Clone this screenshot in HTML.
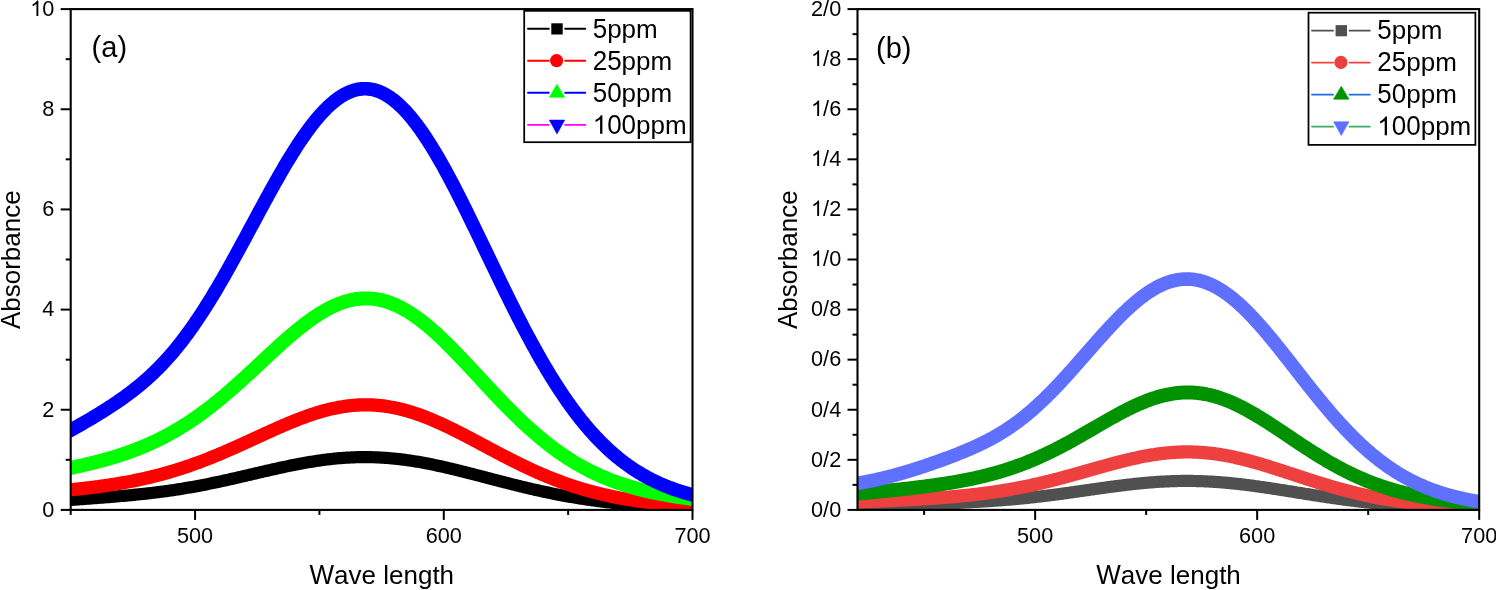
<!DOCTYPE html>
<html><head><meta charset="utf-8"><style>html,body{margin:0;padding:0;background:#fff;overflow:hidden} #w{will-change:transform;width:1496px;height:590px} svg{display:block}</style></head>
<body><div id="w"><svg width="1496" height="590" viewBox="0 0 1496 590">
<style>text{font-family:"Liberation Sans", sans-serif;fill:#000;font-kerning:none}</style>
<rect width="1496" height="590" fill="#fff"/>
<clipPath id="c70"><rect x="70.7" y="9.1" width="621.8" height="500.79999999999995"/></clipPath>
<g clip-path="url(#c70)" fill="none" stroke-width="13.5" stroke-linejoin="round">
<path d="M50.80,501.19 L52.13,501.11 L53.45,501.03 L54.78,500.95 L56.11,500.86 L57.43,500.78 L58.76,500.70 L60.08,500.61 L61.41,500.52 L62.73,500.44 L64.06,500.35 L65.39,500.26 L66.71,500.17 L68.04,500.08 L69.36,499.99 L70.69,499.90 L72.02,499.81 L73.34,499.72 L74.67,499.63 L75.99,499.54 L77.32,499.44 L78.65,499.35 L79.97,499.26 L81.30,499.16 L82.62,499.07 L83.95,498.97 L85.27,498.87 L86.60,498.78 L87.93,498.68 L89.25,498.58 L90.58,498.49 L91.90,498.39 L93.23,498.29 L94.56,498.19 L95.88,498.09 L97.21,497.99 L98.53,497.88 L99.86,497.78 L101.18,497.68 L102.51,497.58 L103.84,497.47 L105.16,497.37 L106.49,497.26 L107.81,497.16 L109.14,497.05 L110.47,496.94 L111.79,496.83 L113.12,496.72 L114.44,496.61 L115.77,496.50 L117.09,496.39 L118.42,496.27 L119.75,496.16 L121.07,496.04 L122.40,495.93 L123.72,495.81 L125.05,495.69 L126.38,495.57 L127.70,495.45 L129.03,495.32 L130.35,495.20 L131.68,495.07 L133.00,494.94 L134.33,494.81 L135.66,494.68 L136.98,494.55 L138.31,494.42 L139.63,494.28 L140.96,494.14 L142.29,494.00 L143.61,493.86 L144.94,493.72 L146.26,493.57 L147.59,493.42 L148.91,493.27 L150.24,493.12 L151.57,492.97 L152.89,492.81 L154.22,492.65 L155.54,492.49 L156.87,492.32 L158.20,492.16 L159.52,491.99 L160.85,491.82 L162.17,491.65 L163.50,491.47 L164.82,491.29 L166.15,491.11 L167.48,490.93 L168.80,490.74 L170.13,490.55 L171.45,490.36 L172.78,490.16 L174.11,489.97 L175.43,489.77 L176.76,489.56 L178.08,489.36 L179.41,489.15 L180.73,488.94 L182.06,488.72 L183.39,488.51 L184.71,488.29 L186.04,488.07 L187.36,487.84 L188.69,487.61 L190.02,487.38 L191.34,487.15 L192.67,486.91 L193.99,486.68 L195.32,486.43 L196.65,486.19 L197.97,485.94 L199.30,485.70 L200.62,485.44 L201.95,485.19 L203.27,484.93 L204.60,484.67 L205.93,484.41 L207.25,484.15 L208.58,483.88 L209.90,483.61 L211.23,483.34 L212.56,483.07 L213.88,482.79 L215.21,482.52 L216.53,482.24 L217.86,481.96 L219.18,481.67 L220.51,481.39 L221.84,481.10 L223.16,480.81 L224.49,480.52 L225.81,480.23 L227.14,479.93 L228.47,479.64 L229.79,479.34 L231.12,479.04 L232.44,478.74 L233.77,478.44 L235.09,478.14 L236.42,477.84 L237.75,477.53 L239.07,477.23 L240.40,476.92 L241.72,476.62 L243.05,476.31 L244.38,476.00 L245.70,475.69 L247.03,475.39 L248.35,475.08 L249.68,474.77 L251.00,474.46 L252.33,474.15 L253.66,473.84 L254.98,473.53 L256.31,473.22 L257.63,472.91 L258.96,472.60 L260.29,472.29 L261.61,471.99 L262.94,471.68 L264.26,471.37 L265.59,471.07 L266.91,470.76 L268.24,470.46 L269.57,470.16 L270.89,469.86 L272.22,469.56 L273.54,469.26 L274.87,468.96 L276.20,468.67 L277.52,468.37 L278.85,468.08 L280.17,467.79 L281.50,467.50 L282.82,467.22 L284.15,466.94 L285.48,466.65 L286.80,466.38 L288.13,466.10 L289.45,465.83 L290.78,465.55 L292.11,465.29 L293.43,465.02 L294.76,464.76 L296.08,464.50 L297.41,464.24 L298.73,463.99 L300.06,463.74 L301.39,463.49 L302.71,463.25 L304.04,463.01 L305.36,462.77 L306.69,462.54 L308.02,462.31 L309.34,462.09 L310.67,461.87 L311.99,461.65 L313.32,461.44 L314.64,461.23 L315.97,461.03 L317.30,460.83 L318.62,460.63 L319.95,460.44 L321.27,460.26 L322.60,460.07 L323.93,459.90 L325.25,459.73 L326.58,459.56 L327.90,459.40 L329.23,459.24 L330.56,459.09 L331.88,458.95 L333.21,458.80 L334.53,458.67 L335.86,458.54 L337.18,458.41 L338.51,458.29 L339.84,458.18 L341.16,458.07 L342.49,457.97 L343.81,457.87 L345.14,457.78 L346.47,457.70 L347.79,457.62 L349.12,457.54 L350.44,457.47 L351.77,457.41 L353.09,457.35 L354.42,457.30 L355.75,457.26 L357.07,457.22 L358.40,457.19 L359.72,457.16 L361.05,457.14 L362.38,457.13 L363.70,457.12 L365.03,457.12 L366.35,457.12 L367.68,457.13 L369.00,457.15 L370.33,457.17 L371.66,457.20 L372.98,457.23 L374.31,457.27 L375.63,457.32 L376.96,457.37 L378.29,457.43 L379.61,457.49 L380.94,457.56 L382.26,457.64 L383.59,457.72 L384.91,457.81 L386.24,457.90 L387.57,458.00 L388.89,458.11 L390.22,458.22 L391.54,458.34 L392.87,458.46 L394.20,458.59 L395.52,458.73 L396.85,458.87 L398.17,459.01 L399.50,459.17 L400.82,459.32 L402.15,459.48 L403.48,459.65 L404.80,459.83 L406.13,460.00 L407.45,460.19 L408.78,460.38 L410.11,460.57 L411.43,460.77 L412.76,460.97 L414.08,461.18 L415.41,461.40 L416.73,461.62 L418.06,461.84 L419.39,462.07 L420.71,462.30 L422.04,462.54 L423.36,462.78 L424.69,463.02 L426.02,463.27 L427.34,463.53 L428.67,463.79 L429.99,464.05 L431.32,464.31 L432.64,464.58 L433.97,464.86 L435.30,465.13 L436.62,465.41 L437.95,465.70 L439.27,465.99 L440.60,466.28 L441.93,466.57 L443.25,466.87 L444.58,467.17 L445.90,467.47 L447.23,467.78 L448.56,468.09 L449.88,468.40 L451.21,468.71 L452.53,469.03 L453.86,469.34 L455.18,469.67 L456.51,469.99 L457.84,470.31 L459.16,470.64 L460.49,470.97 L461.81,471.30 L463.14,471.63 L464.47,471.97 L465.79,472.30 L467.12,472.64 L468.44,472.98 L469.77,473.32 L471.09,473.66 L472.42,474.00 L473.75,474.34 L475.07,474.68 L476.40,475.03 L477.72,475.37 L479.05,475.72 L480.38,476.06 L481.70,476.41 L483.03,476.75 L484.35,477.10 L485.68,477.45 L487.00,477.79 L488.33,478.14 L489.66,478.49 L490.98,478.83 L492.31,479.18 L493.63,479.53 L494.96,479.87 L496.29,480.22 L497.61,480.56 L498.94,480.90 L500.26,481.25 L501.59,481.59 L502.91,481.93 L504.24,482.27 L505.57,482.61 L506.89,482.95 L508.22,483.28 L509.54,483.62 L510.87,483.95 L512.20,484.29 L513.52,484.62 L514.85,484.95 L516.17,485.28 L517.50,485.60 L518.82,485.93 L520.15,486.25 L521.48,486.57 L522.80,486.89 L524.13,487.21 L525.45,487.53 L526.78,487.84 L528.11,488.15 L529.43,488.46 L530.76,488.77 L532.08,489.08 L533.41,489.38 L534.73,489.68 L536.06,489.98 L537.39,490.28 L538.71,490.57 L540.04,490.86 L541.36,491.15 L542.69,491.44 L544.02,491.73 L545.34,492.01 L546.67,492.29 L547.99,492.57 L549.32,492.84 L550.64,493.11 L551.97,493.38 L553.30,493.65 L554.62,493.91 L555.95,494.17 L557.27,494.43 L558.60,494.69 L559.93,494.94 L561.25,495.19 L562.58,495.44 L563.90,495.69 L565.23,495.93 L566.55,496.17 L567.88,496.40 L569.21,496.64 L570.53,496.87 L571.86,497.10 L573.18,497.32 L574.51,497.55 L575.84,497.77 L577.16,497.98 L578.49,498.20 L579.81,498.41 L581.14,498.62 L582.47,498.83 L583.79,499.03 L585.12,499.23 L586.44,499.43 L587.77,499.62 L589.09,499.82 L590.42,500.01 L591.75,500.19 L593.07,500.38 L594.40,500.56 L595.72,500.74 L597.05,500.92 L598.38,501.09 L599.70,501.26 L601.03,501.43 L602.35,501.59 L603.68,501.76 L605.00,501.92 L606.33,502.08 L607.66,502.23 L608.98,502.39 L610.31,502.54 L611.63,502.69 L612.96,502.83 L614.29,502.97 L615.61,503.12 L616.94,503.25 L618.26,503.39 L619.59,503.52 L620.91,503.66 L622.24,503.79 L623.57,503.91 L624.89,504.04 L626.22,504.16 L627.54,504.28 L628.87,504.40 L630.20,504.51 L631.52,504.63 L632.85,504.74 L634.17,504.85 L635.50,504.96 L636.82,505.06 L638.15,505.17 L639.48,505.27 L640.80,505.37 L642.13,505.47 L643.45,505.56 L644.78,505.66 L646.11,505.75 L647.43,505.84 L648.76,505.93 L650.08,506.02 L651.41,506.10 L652.73,506.18 L654.06,506.27 L655.39,506.35 L656.71,506.42 L658.04,506.50 L659.36,506.58 L660.69,506.65 L662.02,506.72 L663.34,506.79 L664.67,506.86 L665.99,506.93 L667.32,507.00 L668.64,507.06 L669.97,507.13 L671.30,507.19 L672.62,507.25 L673.95,507.31 L675.27,507.37 L676.60,507.42 L677.93,507.48 L679.25,507.53 L680.58,507.59 L681.90,507.64 L683.23,507.69 L684.55,507.74 L685.88,507.79 L687.21,507.84 L688.53,507.88 L689.86,507.93 L691.18,507.97 L692.51,508.02 L693.84,508.06 L695.16,508.10 L696.49,508.14 L697.81,508.18 L699.14,508.22 L700.47,508.26 L701.79,508.29 L703.12,508.33 L704.44,508.36 L705.77,508.40 L707.09,508.43 L708.42,508.47 L709.75,508.50 L711.07,508.53 L712.40,508.56" stroke="#000" stroke-width="12.2"/>
<path d="M50.80,491.57 L52.13,491.46 L53.45,491.35 L54.78,491.23 L56.11,491.12 L57.43,491.00 L58.76,490.88 L60.08,490.77 L61.41,490.65 L62.73,490.52 L64.06,490.40 L65.39,490.28 L66.71,490.15 L68.04,490.02 L69.36,489.89 L70.69,489.76 L72.02,489.63 L73.34,489.49 L74.67,489.36 L75.99,489.22 L77.32,489.08 L78.65,488.94 L79.97,488.79 L81.30,488.65 L82.62,488.50 L83.95,488.35 L85.27,488.20 L86.60,488.05 L87.93,487.89 L89.25,487.73 L90.58,487.57 L91.90,487.41 L93.23,487.24 L94.56,487.07 L95.88,486.90 L97.21,486.73 L98.53,486.55 L99.86,486.38 L101.18,486.20 L102.51,486.01 L103.84,485.83 L105.16,485.64 L106.49,485.44 L107.81,485.25 L109.14,485.05 L110.47,484.85 L111.79,484.64 L113.12,484.44 L114.44,484.23 L115.77,484.01 L117.09,483.80 L118.42,483.57 L119.75,483.35 L121.07,483.12 L122.40,482.89 L123.72,482.66 L125.05,482.42 L126.38,482.18 L127.70,481.93 L129.03,481.68 L130.35,481.43 L131.68,481.17 L133.00,480.91 L134.33,480.65 L135.66,480.38 L136.98,480.11 L138.31,479.83 L139.63,479.55 L140.96,479.26 L142.29,478.97 L143.61,478.68 L144.94,478.38 L146.26,478.08 L147.59,477.77 L148.91,477.46 L150.24,477.15 L151.57,476.83 L152.89,476.50 L154.22,476.17 L155.54,475.84 L156.87,475.50 L158.20,475.16 L159.52,474.81 L160.85,474.46 L162.17,474.10 L163.50,473.74 L164.82,473.37 L166.15,473.00 L167.48,472.62 L168.80,472.24 L170.13,471.86 L171.45,471.47 L172.78,471.07 L174.11,470.67 L175.43,470.26 L176.76,469.85 L178.08,469.44 L179.41,469.02 L180.73,468.59 L182.06,468.16 L183.39,467.73 L184.71,467.29 L186.04,466.84 L187.36,466.39 L188.69,465.94 L190.02,465.48 L191.34,465.02 L192.67,464.55 L193.99,464.08 L195.32,463.60 L196.65,463.11 L197.97,462.63 L199.30,462.14 L200.62,461.64 L201.95,461.14 L203.27,460.63 L204.60,460.12 L205.93,459.61 L207.25,459.09 L208.58,458.57 L209.90,458.04 L211.23,457.51 L212.56,456.97 L213.88,456.43 L215.21,455.89 L216.53,455.34 L217.86,454.79 L219.18,454.24 L220.51,453.68 L221.84,453.12 L223.16,452.56 L224.49,451.99 L225.81,451.42 L227.14,450.84 L228.47,450.26 L229.79,449.68 L231.12,449.10 L232.44,448.51 L233.77,447.93 L235.09,447.34 L236.42,446.74 L237.75,446.15 L239.07,445.55 L240.40,444.95 L241.72,444.35 L243.05,443.75 L244.38,443.14 L245.70,442.54 L247.03,441.93 L248.35,441.33 L249.68,440.72 L251.00,440.11 L252.33,439.50 L253.66,438.89 L254.98,438.28 L256.31,437.67 L257.63,437.06 L258.96,436.45 L260.29,435.84 L261.61,435.23 L262.94,434.62 L264.26,434.01 L265.59,433.41 L266.91,432.80 L268.24,432.20 L269.57,431.60 L270.89,431.00 L272.22,430.40 L273.54,429.80 L274.87,429.21 L276.20,428.62 L277.52,428.03 L278.85,427.45 L280.17,426.86 L281.50,426.29 L282.82,425.71 L284.15,425.14 L285.48,424.57 L286.80,424.01 L288.13,423.45 L289.45,422.90 L290.78,422.35 L292.11,421.81 L293.43,421.27 L294.76,420.74 L296.08,420.21 L297.41,419.69 L298.73,419.17 L300.06,418.66 L301.39,418.16 L302.71,417.66 L304.04,417.17 L305.36,416.69 L306.69,416.21 L308.02,415.74 L309.34,415.28 L310.67,414.83 L311.99,414.39 L313.32,413.95 L314.64,413.52 L315.97,413.10 L317.30,412.69 L318.62,412.28 L319.95,411.89 L321.27,411.50 L322.60,411.13 L323.93,410.76 L325.25,410.41 L326.58,410.06 L327.90,409.72 L329.23,409.39 L330.56,409.08 L331.88,408.77 L333.21,408.47 L334.53,408.19 L335.86,407.92 L337.18,407.65 L338.51,407.40 L339.84,407.16 L341.16,406.93 L342.49,406.71 L343.81,406.50 L345.14,406.31 L346.47,406.12 L347.79,405.95 L349.12,405.79 L350.44,405.64 L351.77,405.50 L353.09,405.38 L354.42,405.27 L355.75,405.17 L357.07,405.08 L358.40,405.00 L359.72,404.94 L361.05,404.89 L362.38,404.85 L363.70,404.83 L365.03,404.82 L366.35,404.82 L367.68,404.83 L369.00,404.85 L370.33,404.89 L371.66,404.94 L372.98,405.01 L374.31,405.08 L375.63,405.17 L376.96,405.27 L378.29,405.38 L379.61,405.51 L380.94,405.65 L382.26,405.80 L383.59,405.97 L384.91,406.14 L386.24,406.33 L387.57,406.53 L388.89,406.75 L390.22,406.97 L391.54,407.21 L392.87,407.46 L394.20,407.72 L395.52,408.00 L396.85,408.28 L398.17,408.58 L399.50,408.89 L400.82,409.21 L402.15,409.54 L403.48,409.88 L404.80,410.24 L406.13,410.60 L407.45,410.98 L408.78,411.37 L410.11,411.77 L411.43,412.17 L412.76,412.59 L414.08,413.02 L415.41,413.46 L416.73,413.91 L418.06,414.37 L419.39,414.84 L420.71,415.32 L422.04,415.80 L423.36,416.30 L424.69,416.81 L426.02,417.32 L427.34,417.84 L428.67,418.38 L429.99,418.92 L431.32,419.46 L432.64,420.02 L433.97,420.58 L435.30,421.15 L436.62,421.73 L437.95,422.32 L439.27,422.91 L440.60,423.51 L441.93,424.12 L443.25,424.73 L444.58,425.35 L445.90,425.97 L447.23,426.60 L448.56,427.23 L449.88,427.88 L451.21,428.52 L452.53,429.17 L453.86,429.83 L455.18,430.49 L456.51,431.15 L457.84,431.82 L459.16,432.49 L460.49,433.17 L461.81,433.85 L463.14,434.53 L464.47,435.22 L465.79,435.90 L467.12,436.60 L468.44,437.29 L469.77,437.99 L471.09,438.68 L472.42,439.38 L473.75,440.08 L475.07,440.79 L476.40,441.49 L477.72,442.20 L479.05,442.90 L480.38,443.61 L481.70,444.32 L483.03,445.02 L484.35,445.73 L485.68,446.44 L487.00,447.15 L488.33,447.85 L489.66,448.56 L490.98,449.27 L492.31,449.97 L493.63,450.67 L494.96,451.38 L496.29,452.08 L497.61,452.77 L498.94,453.47 L500.26,454.17 L501.59,454.86 L502.91,455.55 L504.24,456.24 L505.57,456.93 L506.89,457.61 L508.22,458.29 L509.54,458.97 L510.87,459.64 L512.20,460.31 L513.52,460.98 L514.85,461.65 L516.17,462.31 L517.50,462.96 L518.82,463.62 L520.15,464.27 L521.48,464.91 L522.80,465.55 L524.13,466.19 L525.45,466.82 L526.78,467.45 L528.11,468.07 L529.43,468.69 L530.76,469.31 L532.08,469.92 L533.41,470.52 L534.73,471.12 L536.06,471.72 L537.39,472.31 L538.71,472.89 L540.04,473.47 L541.36,474.04 L542.69,474.61 L544.02,475.17 L545.34,475.73 L546.67,476.29 L547.99,476.83 L549.32,477.37 L550.64,477.91 L551.97,478.44 L553.30,478.96 L554.62,479.48 L555.95,480.00 L557.27,480.50 L558.60,481.00 L559.93,481.50 L561.25,481.99 L562.58,482.47 L563.90,482.95 L565.23,483.42 L566.55,483.89 L567.88,484.35 L569.21,484.81 L570.53,485.26 L571.86,485.70 L573.18,486.14 L574.51,486.57 L575.84,486.99 L577.16,487.41 L578.49,487.83 L579.81,488.24 L581.14,488.64 L582.47,489.03 L583.79,489.43 L585.12,489.81 L586.44,490.19 L587.77,490.57 L589.09,490.93 L590.42,491.30 L591.75,491.65 L593.07,492.01 L594.40,492.35 L595.72,492.69 L597.05,493.03 L598.38,493.36 L599.70,493.68 L601.03,494.00 L602.35,494.32 L603.68,494.63 L605.00,494.93 L606.33,495.23 L607.66,495.52 L608.98,495.81 L610.31,496.10 L611.63,496.38 L612.96,496.65 L614.29,496.92 L615.61,497.18 L616.94,497.44 L618.26,497.70 L619.59,497.95 L620.91,498.20 L622.24,498.44 L623.57,498.67 L624.89,498.91 L626.22,499.13 L627.54,499.36 L628.87,499.58 L630.20,499.79 L631.52,500.01 L632.85,500.21 L634.17,500.42 L635.50,500.62 L636.82,500.81 L638.15,501.00 L639.48,501.19 L640.80,501.37 L642.13,501.56 L643.45,501.73 L644.78,501.91 L646.11,502.08 L647.43,502.24 L648.76,502.40 L650.08,502.56 L651.41,502.72 L652.73,502.87 L654.06,503.02 L655.39,503.17 L656.71,503.31 L658.04,503.45 L659.36,503.59 L660.69,503.73 L662.02,503.86 L663.34,503.99 L664.67,504.11 L665.99,504.24 L667.32,504.36 L668.64,504.48 L669.97,504.59 L671.30,504.71 L672.62,504.82 L673.95,504.93 L675.27,505.03 L676.60,505.13 L677.93,505.24 L679.25,505.34 L680.58,505.43 L681.90,505.53 L683.23,505.62 L684.55,505.71 L685.88,505.80 L687.21,505.88 L688.53,505.97 L689.86,506.05 L691.18,506.13 L692.51,506.21 L693.84,506.29 L695.16,506.36 L696.49,506.44 L697.81,506.51 L699.14,506.58 L700.47,506.65 L701.79,506.72 L703.12,506.78 L704.44,506.85 L705.77,506.91 L707.09,506.97 L708.42,507.03 L709.75,507.09 L711.07,507.15 L712.40,507.20" stroke="#f00" stroke-width="13.3"/>
<path d="M50.80,471.70 L52.13,471.46 L53.45,471.22 L54.78,470.98 L56.11,470.73 L57.43,470.48 L58.76,470.23 L60.08,469.98 L61.41,469.72 L62.73,469.46 L64.06,469.20 L65.39,468.94 L66.71,468.68 L68.04,468.41 L69.36,468.14 L70.69,467.87 L72.02,467.59 L73.34,467.31 L74.67,467.03 L75.99,466.75 L77.32,466.47 L78.65,466.18 L79.97,465.88 L81.30,465.59 L82.62,465.29 L83.95,464.99 L85.27,464.68 L86.60,464.37 L87.93,464.06 L89.25,463.75 L90.58,463.43 L91.90,463.10 L93.23,462.78 L94.56,462.44 L95.88,462.11 L97.21,461.77 L98.53,461.42 L99.86,461.08 L101.18,460.72 L102.51,460.37 L103.84,460.00 L105.16,459.64 L106.49,459.26 L107.81,458.89 L109.14,458.51 L110.47,458.12 L111.79,457.73 L113.12,457.33 L114.44,456.93 L115.77,456.52 L117.09,456.10 L118.42,455.68 L119.75,455.26 L121.07,454.82 L122.40,454.39 L123.72,453.94 L125.05,453.49 L126.38,453.03 L127.70,452.57 L129.03,452.10 L130.35,451.62 L131.68,451.14 L133.00,450.64 L134.33,450.15 L135.66,449.64 L136.98,449.13 L138.31,448.61 L139.63,448.08 L140.96,447.54 L142.29,447.00 L143.61,446.45 L144.94,445.89 L146.26,445.32 L147.59,444.75 L148.91,444.16 L150.24,443.57 L151.57,442.97 L152.89,442.36 L154.22,441.75 L155.54,441.12 L156.87,440.48 L158.20,439.84 L159.52,439.19 L160.85,438.52 L162.17,437.85 L163.50,437.17 L164.82,436.48 L166.15,435.78 L167.48,435.08 L168.80,434.36 L170.13,433.63 L171.45,432.89 L172.78,432.15 L174.11,431.39 L175.43,430.62 L176.76,429.85 L178.08,429.06 L179.41,428.26 L180.73,427.46 L182.06,426.64 L183.39,425.82 L184.71,424.98 L186.04,424.13 L187.36,423.28 L188.69,422.41 L190.02,421.54 L191.34,420.65 L192.67,419.75 L193.99,418.85 L195.32,417.93 L196.65,417.01 L197.97,416.07 L199.30,415.13 L200.62,414.17 L201.95,413.21 L203.27,412.23 L204.60,411.25 L205.93,410.25 L207.25,409.25 L208.58,408.24 L209.90,407.22 L211.23,406.18 L212.56,405.14 L213.88,404.09 L215.21,403.04 L216.53,401.97 L217.86,400.89 L219.18,399.81 L220.51,398.72 L221.84,397.62 L223.16,396.51 L224.49,395.39 L225.81,394.27 L227.14,393.14 L228.47,392.00 L229.79,390.85 L231.12,389.70 L232.44,388.54 L233.77,387.38 L235.09,386.21 L236.42,385.03 L237.75,383.84 L239.07,382.66 L240.40,381.46 L241.72,380.26 L243.05,379.06 L244.38,377.85 L245.70,376.64 L247.03,375.42 L248.35,374.20 L249.68,372.98 L251.00,371.76 L252.33,370.53 L253.66,369.30 L254.98,368.06 L256.31,366.83 L257.63,365.60 L258.96,364.36 L260.29,363.12 L261.61,361.89 L262.94,360.65 L264.26,359.41 L265.59,358.18 L266.91,356.95 L268.24,355.71 L269.57,354.48 L270.89,353.26 L272.22,352.03 L273.54,350.81 L274.87,349.59 L276.20,348.38 L277.52,347.17 L278.85,345.97 L280.17,344.77 L281.50,343.58 L282.82,342.39 L284.15,341.21 L285.48,340.04 L286.80,338.88 L288.13,337.72 L289.45,336.57 L290.78,335.43 L292.11,334.30 L293.43,333.18 L294.76,332.07 L296.08,330.98 L297.41,329.89 L298.73,328.81 L300.06,327.75 L301.39,326.70 L302.71,325.66 L304.04,324.63 L305.36,323.62 L306.69,322.62 L308.02,321.64 L309.34,320.67 L310.67,319.72 L311.99,318.78 L313.32,317.86 L314.64,316.95 L315.97,316.07 L317.30,315.20 L318.62,314.35 L319.95,313.51 L321.27,312.70 L322.60,311.90 L323.93,311.13 L325.25,310.37 L326.58,309.64 L327.90,308.92 L329.23,308.23 L330.56,307.55 L331.88,306.90 L333.21,306.27 L334.53,305.66 L335.86,305.08 L337.18,304.51 L338.51,303.97 L339.84,303.46 L341.16,302.97 L342.49,302.50 L343.81,302.05 L345.14,301.63 L346.47,301.24 L347.79,300.87 L349.12,300.52 L350.44,300.20 L351.77,299.91 L353.09,299.64 L354.42,299.39 L355.75,299.18 L357.07,298.99 L358.40,298.82 L359.72,298.68 L361.05,298.57 L362.38,298.48 L363.70,298.42 L365.03,298.39 L366.35,298.39 L367.68,298.41 L369.00,298.46 L370.33,298.53 L371.66,298.63 L372.98,298.76 L374.31,298.92 L375.63,299.10 L376.96,299.31 L378.29,299.55 L379.61,299.81 L380.94,300.10 L382.26,300.42 L383.59,300.76 L384.91,301.13 L386.24,301.53 L387.57,301.95 L388.89,302.40 L390.22,302.87 L391.54,303.37 L392.87,303.90 L394.20,304.45 L395.52,305.02 L396.85,305.62 L398.17,306.25 L399.50,306.90 L400.82,307.57 L402.15,308.27 L403.48,308.99 L404.80,309.74 L406.13,310.51 L407.45,311.30 L408.78,312.11 L410.11,312.95 L411.43,313.81 L412.76,314.68 L414.08,315.59 L415.41,316.51 L416.73,317.45 L418.06,318.41 L419.39,319.40 L420.71,320.40 L422.04,321.42 L423.36,322.46 L424.69,323.52 L426.02,324.59 L427.34,325.69 L428.67,326.80 L429.99,327.92 L431.32,329.07 L432.64,330.23 L433.97,331.40 L435.30,332.59 L436.62,333.79 L437.95,335.01 L439.27,336.25 L440.60,337.49 L441.93,338.75 L443.25,340.02 L444.58,341.30 L445.90,342.59 L447.23,343.90 L448.56,345.21 L449.88,346.54 L451.21,347.87 L452.53,349.22 L453.86,350.57 L455.18,351.93 L456.51,353.30 L457.84,354.67 L459.16,356.06 L460.49,357.44 L461.81,358.84 L463.14,360.24 L464.47,361.64 L465.79,363.05 L467.12,364.47 L468.44,365.88 L469.77,367.30 L471.09,368.73 L472.42,370.15 L473.75,371.58 L475.07,373.01 L476.40,374.44 L477.72,375.87 L479.05,377.30 L480.38,378.73 L481.70,380.16 L483.03,381.59 L484.35,383.02 L485.68,384.45 L487.00,385.87 L488.33,387.29 L489.66,388.71 L490.98,390.13 L492.31,391.54 L493.63,392.95 L494.96,394.36 L496.29,395.76 L497.61,397.15 L498.94,398.54 L500.26,399.92 L501.59,401.30 L502.91,402.68 L504.24,404.04 L505.57,405.40 L506.89,406.75 L508.22,408.10 L509.54,409.44 L510.87,410.77 L512.20,412.09 L513.52,413.40 L514.85,414.71 L516.17,416.00 L517.50,417.29 L518.82,418.57 L520.15,419.84 L521.48,421.10 L522.80,422.35 L524.13,423.59 L525.45,424.82 L526.78,426.04 L528.11,427.25 L529.43,428.45 L530.76,429.64 L532.08,430.82 L533.41,431.98 L534.73,433.14 L536.06,434.28 L537.39,435.42 L538.71,436.54 L540.04,437.65 L541.36,438.75 L542.69,439.84 L544.02,440.91 L545.34,441.98 L546.67,443.03 L547.99,444.07 L549.32,445.10 L550.64,446.12 L551.97,447.12 L553.30,448.12 L554.62,449.10 L555.95,450.07 L557.27,451.02 L558.60,451.97 L559.93,452.90 L561.25,453.82 L562.58,454.73 L563.90,455.63 L565.23,456.52 L566.55,457.39 L567.88,458.25 L569.21,459.10 L570.53,459.94 L571.86,460.76 L573.18,461.58 L574.51,462.38 L575.84,463.17 L577.16,463.95 L578.49,464.72 L579.81,465.48 L581.14,466.22 L582.47,466.95 L583.79,467.68 L585.12,468.39 L586.44,469.09 L587.77,469.78 L589.09,470.46 L590.42,471.13 L591.75,471.78 L593.07,472.43 L594.40,473.07 L595.72,473.69 L597.05,474.31 L598.38,474.91 L599.70,475.51 L601.03,476.09 L602.35,476.67 L603.68,477.24 L605.00,477.79 L606.33,478.34 L607.66,478.88 L608.98,479.40 L610.31,479.92 L611.63,480.43 L612.96,480.93 L614.29,481.43 L615.61,481.91 L616.94,482.38 L618.26,482.85 L619.59,483.31 L620.91,483.76 L622.24,484.20 L623.57,484.63 L624.89,485.06 L626.22,485.48 L627.54,485.89 L628.87,486.29 L630.20,486.68 L631.52,487.07 L632.85,487.45 L634.17,487.83 L635.50,488.19 L636.82,488.55 L638.15,488.91 L639.48,489.25 L640.80,489.59 L642.13,489.93 L643.45,490.26 L644.78,490.58 L646.11,490.89 L647.43,491.20 L648.76,491.50 L650.08,491.80 L651.41,492.10 L652.73,492.38 L654.06,492.66 L655.39,492.94 L656.71,493.21 L658.04,493.48 L659.36,493.74 L660.69,493.99 L662.02,494.24 L663.34,494.49 L664.67,494.73 L665.99,494.97 L667.32,495.20 L668.64,495.43 L669.97,495.65 L671.30,495.87 L672.62,496.09 L673.95,496.30 L675.27,496.51 L676.60,496.71 L677.93,496.91 L679.25,497.11 L680.58,497.30 L681.90,497.49 L683.23,497.68 L684.55,497.86 L685.88,498.04 L687.21,498.22 L688.53,498.39 L689.86,498.56 L691.18,498.73 L692.51,498.89 L693.84,499.05 L695.16,499.21 L696.49,499.37 L697.81,499.52 L699.14,499.67 L700.47,499.82 L701.79,499.96 L703.12,500.10 L704.44,500.24 L705.77,500.38 L707.09,500.52 L708.42,500.65 L709.75,500.78 L711.07,500.91 L712.40,501.03" stroke="#0f0" stroke-width="14.0"/>
<path d="M50.80,440.44 L52.13,439.79 L53.45,439.13 L54.78,438.47 L56.11,437.80 L57.43,437.13 L58.76,436.46 L60.08,435.77 L61.41,435.09 L62.73,434.39 L64.06,433.70 L65.39,432.99 L66.71,432.29 L68.04,431.57 L69.36,430.86 L70.69,430.14 L72.02,429.41 L73.34,428.68 L74.67,427.95 L75.99,427.21 L77.32,426.47 L78.65,425.72 L79.97,424.97 L81.30,424.22 L82.62,423.46 L83.95,422.69 L85.27,421.93 L86.60,421.16 L87.93,420.38 L89.25,419.60 L90.58,418.82 L91.90,418.03 L93.23,417.24 L94.56,416.44 L95.88,415.64 L97.21,414.84 L98.53,414.03 L99.86,413.21 L101.18,412.39 L102.51,411.57 L103.84,410.74 L105.16,409.90 L106.49,409.06 L107.81,408.21 L109.14,407.35 L110.47,406.49 L111.79,405.63 L113.12,404.75 L114.44,403.87 L115.77,402.98 L117.09,402.08 L118.42,401.17 L119.75,400.26 L121.07,399.34 L122.40,398.40 L123.72,397.46 L125.05,396.51 L126.38,395.55 L127.70,394.57 L129.03,393.59 L130.35,392.59 L131.68,391.58 L133.00,390.56 L134.33,389.53 L135.66,388.48 L136.98,387.42 L138.31,386.35 L139.63,385.26 L140.96,384.16 L142.29,383.05 L143.61,381.91 L144.94,380.76 L146.26,379.60 L147.59,378.42 L148.91,377.22 L150.24,376.01 L151.57,374.78 L152.89,373.52 L154.22,372.26 L155.54,370.97 L156.87,369.66 L158.20,368.34 L159.52,366.99 L160.85,365.63 L162.17,364.24 L163.50,362.84 L164.82,361.41 L166.15,359.97 L167.48,358.50 L168.80,357.01 L170.13,355.50 L171.45,353.97 L172.78,352.42 L174.11,350.85 L175.43,349.25 L176.76,347.63 L178.08,345.99 L179.41,344.33 L180.73,342.65 L182.06,340.94 L183.39,339.21 L184.71,337.46 L186.04,335.69 L187.36,333.89 L188.69,332.08 L190.02,330.24 L191.34,328.38 L192.67,326.50 L193.99,324.59 L195.32,322.67 L196.65,320.72 L197.97,318.76 L199.30,316.77 L200.62,314.76 L201.95,312.73 L203.27,310.68 L204.60,308.62 L205.93,306.53 L207.25,304.42 L208.58,302.30 L209.90,300.15 L211.23,297.99 L212.56,295.81 L213.88,293.61 L215.21,291.40 L216.53,289.17 L217.86,286.92 L219.18,284.66 L220.51,282.39 L221.84,280.09 L223.16,277.79 L224.49,275.47 L225.81,273.14 L227.14,270.79 L228.47,268.44 L229.79,266.07 L231.12,263.69 L232.44,261.30 L233.77,258.90 L235.09,256.49 L236.42,254.07 L237.75,251.65 L239.07,249.22 L240.40,246.78 L241.72,244.33 L243.05,241.88 L244.38,239.43 L245.70,236.97 L247.03,234.50 L248.35,232.04 L249.68,229.57 L251.00,227.10 L252.33,224.63 L253.66,222.16 L254.98,219.69 L256.31,217.23 L257.63,214.76 L258.96,212.30 L260.29,209.84 L261.61,207.39 L262.94,204.94 L264.26,202.50 L265.59,200.06 L266.91,197.63 L268.24,195.21 L269.57,192.80 L270.89,190.40 L272.22,188.01 L273.54,185.63 L274.87,183.26 L276.20,180.90 L277.52,178.56 L278.85,176.23 L280.17,173.92 L281.50,171.62 L282.82,169.34 L284.15,167.08 L285.48,164.84 L286.80,162.61 L288.13,160.41 L289.45,158.22 L290.78,156.06 L292.11,153.91 L293.43,151.79 L294.76,149.70 L296.08,147.62 L297.41,145.58 L298.73,143.56 L300.06,141.56 L301.39,139.59 L302.71,137.65 L304.04,135.74 L305.36,133.86 L306.69,132.00 L308.02,130.18 L309.34,128.39 L310.67,126.63 L311.99,124.90 L313.32,123.21 L314.64,121.55 L315.97,119.92 L317.30,118.33 L318.62,116.78 L319.95,115.26 L321.27,113.78 L322.60,112.34 L323.93,110.93 L325.25,109.56 L326.58,108.24 L327.90,106.95 L329.23,105.70 L330.56,104.49 L331.88,103.33 L333.21,102.20 L334.53,101.12 L335.86,100.08 L337.18,99.09 L338.51,98.14 L339.84,97.23 L341.16,96.36 L342.49,95.54 L343.81,94.77 L345.14,94.04 L346.47,93.36 L347.79,92.72 L349.12,92.13 L350.44,91.58 L351.77,91.08 L353.09,90.63 L354.42,90.23 L355.75,89.87 L357.07,89.57 L358.40,89.31 L359.72,89.09 L361.05,88.93 L362.38,88.81 L363.70,88.75 L365.03,88.73 L366.35,88.76 L367.68,88.84 L369.00,88.96 L370.33,89.14 L371.66,89.36 L372.98,89.63 L374.31,89.95 L375.63,90.32 L376.96,90.74 L378.29,91.21 L379.61,91.72 L380.94,92.28 L382.26,92.89 L383.59,93.55 L384.91,94.26 L386.24,95.01 L387.57,95.81 L388.89,96.66 L390.22,97.55 L391.54,98.49 L392.87,99.47 L394.20,100.51 L395.52,101.58 L396.85,102.70 L398.17,103.87 L399.50,105.08 L400.82,106.33 L402.15,107.63 L403.48,108.97 L404.80,110.35 L406.13,111.78 L407.45,113.25 L408.78,114.75 L410.11,116.30 L411.43,117.89 L412.76,119.52 L414.08,121.19 L415.41,122.89 L416.73,124.64 L418.06,126.42 L419.39,128.24 L420.71,130.09 L422.04,131.98 L423.36,133.91 L424.69,135.87 L426.02,137.86 L427.34,139.89 L428.67,141.95 L429.99,144.04 L431.32,146.16 L432.64,148.31 L433.97,150.49 L435.30,152.71 L436.62,154.94 L437.95,157.21 L439.27,159.51 L440.60,161.83 L441.93,164.17 L443.25,166.54 L444.58,168.94 L445.90,171.35 L447.23,173.79 L448.56,176.25 L449.88,178.74 L451.21,181.24 L452.53,183.76 L453.86,186.30 L455.18,188.86 L456.51,191.44 L457.84,194.03 L459.16,196.64 L460.49,199.26 L461.81,201.90 L463.14,204.55 L464.47,207.22 L465.79,209.89 L467.12,212.58 L468.44,215.28 L469.77,217.98 L471.09,220.70 L472.42,223.42 L473.75,226.16 L475.07,228.89 L476.40,231.64 L477.72,234.39 L479.05,237.14 L480.38,239.90 L481.70,242.66 L483.03,245.42 L484.35,248.19 L485.68,250.96 L487.00,253.72 L488.33,256.49 L489.66,259.26 L490.98,262.02 L492.31,264.78 L493.63,267.54 L494.96,270.30 L496.29,273.05 L497.61,275.79 L498.94,278.53 L500.26,281.27 L501.59,284.00 L502.91,286.72 L504.24,289.43 L505.57,292.14 L506.89,294.84 L508.22,297.52 L509.54,300.20 L510.87,302.87 L512.20,305.52 L513.52,308.17 L514.85,310.80 L516.17,313.42 L517.50,316.03 L518.82,318.62 L520.15,321.21 L521.48,323.77 L522.80,326.32 L524.13,328.86 L525.45,331.38 L526.78,333.89 L528.11,336.38 L529.43,338.85 L530.76,341.31 L532.08,343.75 L533.41,346.17 L534.73,348.58 L536.06,350.96 L537.39,353.33 L538.71,355.68 L540.04,358.01 L541.36,360.32 L542.69,362.62 L544.02,364.89 L545.34,367.14 L546.67,369.37 L547.99,371.58 L549.32,373.78 L550.64,375.95 L551.97,378.10 L553.30,380.22 L554.62,382.33 L555.95,384.42 L557.27,386.48 L558.60,388.53 L559.93,390.55 L561.25,392.55 L562.58,394.53 L563.90,396.48 L565.23,398.42 L566.55,400.33 L567.88,402.22 L569.21,404.09 L570.53,405.93 L571.86,407.76 L573.18,409.56 L574.51,411.34 L575.84,413.09 L577.16,414.83 L578.49,416.54 L579.81,418.23 L581.14,419.90 L582.47,421.54 L583.79,423.17 L585.12,424.77 L586.44,426.35 L587.77,427.91 L589.09,429.45 L590.42,430.96 L591.75,432.45 L593.07,433.92 L594.40,435.37 L595.72,436.80 L597.05,438.21 L598.38,439.60 L599.70,440.96 L601.03,442.31 L602.35,443.63 L603.68,444.93 L605.00,446.22 L606.33,447.48 L607.66,448.72 L608.98,449.95 L610.31,451.15 L611.63,452.33 L612.96,453.49 L614.29,454.64 L615.61,455.76 L616.94,456.87 L618.26,457.96 L619.59,459.03 L620.91,460.08 L622.24,461.11 L623.57,462.12 L624.89,463.12 L626.22,464.10 L627.54,465.06 L628.87,466.00 L630.20,466.93 L631.52,467.84 L632.85,468.73 L634.17,469.60 L635.50,470.46 L636.82,471.31 L638.15,472.14 L639.48,472.95 L640.80,473.74 L642.13,474.53 L643.45,475.29 L644.78,476.04 L646.11,476.78 L647.43,477.50 L648.76,478.21 L650.08,478.90 L651.41,479.58 L652.73,480.25 L654.06,480.90 L655.39,481.54 L656.71,482.17 L658.04,482.78 L659.36,483.38 L660.69,483.97 L662.02,484.55 L663.34,485.11 L664.67,485.66 L665.99,486.21 L667.32,486.73 L668.64,487.25 L669.97,487.76 L671.30,488.26 L672.62,488.74 L673.95,489.22 L675.27,489.68 L676.60,490.14 L677.93,490.58 L679.25,491.01 L680.58,491.44 L681.90,491.86 L683.23,492.26 L684.55,492.66 L685.88,493.05 L687.21,493.43 L688.53,493.80 L689.86,494.16 L691.18,494.52 L692.51,494.86 L693.84,495.20 L695.16,495.53 L696.49,495.86 L697.81,496.17 L699.14,496.48 L700.47,496.78 L701.79,497.08 L703.12,497.37 L704.44,497.65 L705.77,497.92 L707.09,498.19 L708.42,498.45 L709.75,498.71 L711.07,498.96 L712.40,499.20" stroke="#00f" stroke-width="13.7"/>
</g>
<rect x="70.7" y="9.1" width="621.8" height="500.79999999999995" fill="none" stroke="#000" stroke-width="2.1"/>
<line x1="60.7" y1="509.90" x2="70.7" y2="509.90" stroke="#000" stroke-width="2"/>
<g transform="translate(54.40,517.00)">
<text transform="translate(-12.07,0) scale(1,1.0400)" font-size="21.7">0</text>
</g>
<line x1="65.7" y1="459.82" x2="70.7" y2="459.82" stroke="#000" stroke-width="2"/>
<line x1="60.7" y1="409.74" x2="70.7" y2="409.74" stroke="#000" stroke-width="2"/>
<g transform="translate(54.40,417.00)">
<text transform="translate(-12.07,0) scale(1,1.0400)" font-size="21.7">2</text>
</g>
<line x1="65.7" y1="359.66" x2="70.7" y2="359.66" stroke="#000" stroke-width="2"/>
<line x1="60.7" y1="309.58" x2="70.7" y2="309.58" stroke="#000" stroke-width="2"/>
<g transform="translate(54.40,316.00)">
<text transform="translate(-12.07,0) scale(1,1.0400)" font-size="21.7">4</text>
</g>
<line x1="65.7" y1="259.50" x2="70.7" y2="259.50" stroke="#000" stroke-width="2"/>
<line x1="60.7" y1="209.42" x2="70.7" y2="209.42" stroke="#000" stroke-width="2"/>
<g transform="translate(54.40,216.00)">
<text transform="translate(-12.07,0) scale(1,1.0400)" font-size="21.7">6</text>
</g>
<line x1="65.7" y1="159.34" x2="70.7" y2="159.34" stroke="#000" stroke-width="2"/>
<line x1="60.7" y1="109.26" x2="70.7" y2="109.26" stroke="#000" stroke-width="2"/>
<g transform="translate(54.40,116.00)">
<text transform="translate(-12.07,0) scale(1,1.0400)" font-size="21.7">8</text>
</g>
<line x1="65.7" y1="59.18" x2="70.7" y2="59.18" stroke="#000" stroke-width="2"/>
<line x1="60.7" y1="9.10" x2="70.7" y2="9.10" stroke="#000" stroke-width="2"/>
<g transform="translate(54.40,16.00)">
<path transform="translate(-24.14,0) scale(0.010596,-0.010591)" d="M763,0 L583,0 L583,1147 Q518,1085 412.5,1023 Q307,961 223,930 L223,1104 Q374,1175 484.5,1273.5 Q595,1372 646,1466 L763,1466 Z"/>
<text transform="translate(-12.07,0) scale(1,1.0400)" font-size="21.7">0</text>
</g>
<line x1="70.70" y1="509.9" x2="70.70" y2="514.9" stroke="#000" stroke-width="2"/>
<line x1="195.06" y1="509.9" x2="195.06" y2="519.9" stroke="#000" stroke-width="2"/>
<g transform="translate(195.06,543.00)">
<text transform="translate(-18.10,0) scale(1,1.0400)" font-size="21.7">500</text>
</g>
<line x1="319.42" y1="509.9" x2="319.42" y2="514.9" stroke="#000" stroke-width="2"/>
<line x1="443.78" y1="509.9" x2="443.78" y2="519.9" stroke="#000" stroke-width="2"/>
<g transform="translate(443.78,543.00)">
<text transform="translate(-18.10,0) scale(1,1.0400)" font-size="21.7">600</text>
</g>
<line x1="568.14" y1="509.9" x2="568.14" y2="514.9" stroke="#000" stroke-width="2"/>
<line x1="692.50" y1="509.9" x2="692.50" y2="519.9" stroke="#000" stroke-width="2"/>
<g transform="translate(692.50,543.00)">
<text transform="translate(-18.10,0) scale(1,1.0400)" font-size="21.7">700</text>
</g>
<g transform="translate(91.60,57.20)">
<text transform="translate(0.00,0) scale(1,1.0000)" font-size="29">(a)</text>
</g>
<g transform="translate(381.80,584.00)">
<text transform="translate(-72.26,0) scale(1,1.0400)" font-size="26">W</text>
<text transform="translate(-47.72,0) scale(1,1.0000)" font-size="26">ave length</text>
</g>
<g transform="translate(19.90,259.70) rotate(-90)">
<text transform="translate(-69.38,0) scale(1,1.0400)" font-size="26">A</text>
<text transform="translate(-52.04,0) scale(1,1.0000)" font-size="26">bsorbance</text>
</g>
<rect x="524.2" y="10.85" width="166.39999999999998" height="131.35" fill="#fff" stroke="#000" stroke-width="1.75"/>
<path d="M528.0,28.8 H548.8 M565.2,28.8 H585.3" stroke="#000" stroke-width="1.9" stroke-linecap="round" fill="none"/>
<rect x="551.3" y="23.3" width="11.4" height="11.2" fill="#000"/>
<g transform="translate(592.70,38.10)">
<text transform="translate(0.00,0) scale(1,1.0400)" font-size="26">5</text>
<text transform="translate(14.46,0) scale(1,1.0000)" font-size="26">ppm</text>
</g>
<path d="M528.0,60.8 H548.8 M565.2,60.8 H585.3" stroke="#f00" stroke-width="1.9" stroke-linecap="round" fill="none"/>
<circle cx="556.6" cy="60.599999999999994" r="6.6" fill="#f00"/>
<g transform="translate(592.70,69.90)">
<text transform="translate(0.00,0) scale(1,1.0400)" font-size="26">25</text>
<text transform="translate(28.92,0) scale(1,1.0000)" font-size="26">ppm</text>
</g>
<path d="M528.0,92.7 H548.8 M565.2,92.7 H585.3" stroke="#00f" stroke-width="1.9" stroke-linecap="round" fill="none"/>
<path d="M549.3,97.3 L564.7,97.3 L557,84.3 Z" fill="#0f0" stroke="#0f0" stroke-width="0.6" stroke-linejoin="round"/>
<g transform="translate(592.70,101.90)">
<text transform="translate(0.00,0) scale(1,1.0400)" font-size="26">50</text>
<text transform="translate(28.92,0) scale(1,1.0000)" font-size="26">ppm</text>
</g>
<path d="M528.0,124.9 H548.8 M565.2,124.9 H585.3" stroke="#f0f" stroke-width="1.9" stroke-linecap="round" fill="none"/>
<path d="M549.3,120.10000000000001 L564.7,120.10000000000001 L557,133.9 Z" fill="#00f" stroke="#00f" stroke-width="0.6" stroke-linejoin="round"/>
<g transform="translate(592.70,133.80)">
<path transform="translate(0.00,0) scale(0.012695,-0.012690)" d="M763,0 L583,0 L583,1147 Q518,1085 412.5,1023 Q307,961 223,930 L223,1104 Q374,1175 484.5,1273.5 Q595,1372 646,1466 L763,1466 Z"/>
<text transform="translate(14.46,0) scale(1,1.0400)" font-size="26">00</text>
<text transform="translate(43.38,0) scale(1,1.0000)" font-size="26">ppm</text>
</g>
<clipPath id="c857"><rect x="857.5" y="9.1" width="621.7" height="500.79999999999995"/></clipPath>
<g clip-path="url(#c857)" fill="none" stroke-width="13.5" stroke-linejoin="round">
<path d="M839.74,506.91 L841.05,506.89 L842.37,506.87 L843.69,506.84 L845.01,506.82 L846.32,506.79 L847.64,506.77 L848.96,506.74 L850.27,506.72 L851.59,506.69 L852.91,506.66 L854.23,506.64 L855.54,506.61 L856.86,506.58 L858.18,506.55 L859.49,506.52 L860.81,506.49 L862.13,506.46 L863.44,506.43 L864.76,506.40 L866.08,506.37 L867.40,506.34 L868.71,506.31 L870.03,506.27 L871.35,506.24 L872.66,506.20 L873.98,506.17 L875.30,506.13 L876.62,506.10 L877.93,506.06 L879.25,506.02 L880.57,505.98 L881.88,505.95 L883.20,505.91 L884.52,505.87 L885.84,505.83 L887.15,505.79 L888.47,505.74 L889.79,505.70 L891.10,505.66 L892.42,505.61 L893.74,505.57 L895.05,505.53 L896.37,505.48 L897.69,505.44 L899.01,505.39 L900.32,505.34 L901.64,505.30 L902.96,505.25 L904.27,505.20 L905.59,505.15 L906.91,505.10 L908.23,505.05 L909.54,505.00 L910.86,504.95 L912.18,504.90 L913.49,504.85 L914.81,504.79 L916.13,504.74 L917.45,504.69 L918.76,504.63 L920.08,504.58 L921.40,504.53 L922.71,504.47 L924.03,504.42 L925.35,504.36 L926.66,504.30 L927.98,504.25 L929.30,504.19 L930.62,504.14 L931.93,504.08 L933.25,504.02 L934.57,503.96 L935.88,503.90 L937.20,503.85 L938.52,503.79 L939.84,503.73 L941.15,503.67 L942.47,503.61 L943.79,503.55 L945.10,503.49 L946.42,503.42 L947.74,503.36 L949.06,503.30 L950.37,503.24 L951.69,503.18 L953.01,503.11 L954.32,503.05 L955.64,502.98 L956.96,502.92 L958.27,502.85 L959.59,502.79 L960.91,502.72 L962.23,502.65 L963.54,502.59 L964.86,502.52 L966.18,502.45 L967.49,502.38 L968.81,502.31 L970.13,502.24 L971.45,502.17 L972.76,502.09 L974.08,502.02 L975.40,501.94 L976.71,501.87 L978.03,501.79 L979.35,501.71 L980.67,501.64 L981.98,501.56 L983.30,501.47 L984.62,501.39 L985.93,501.31 L987.25,501.22 L988.57,501.14 L989.88,501.05 L991.20,500.96 L992.52,500.87 L993.84,500.78 L995.15,500.69 L996.47,500.59 L997.79,500.50 L999.10,500.40 L1000.42,500.30 L1001.74,500.20 L1003.06,500.10 L1004.37,499.99 L1005.69,499.89 L1007.01,499.78 L1008.32,499.67 L1009.64,499.56 L1010.96,499.45 L1012.28,499.33 L1013.59,499.22 L1014.91,499.10 L1016.23,498.98 L1017.54,498.86 L1018.86,498.73 L1020.18,498.61 L1021.49,498.48 L1022.81,498.35 L1024.13,498.22 L1025.45,498.08 L1026.76,497.95 L1028.08,497.81 L1029.40,497.67 L1030.71,497.53 L1032.03,497.39 L1033.35,497.24 L1034.67,497.10 L1035.98,496.95 L1037.30,496.80 L1038.62,496.65 L1039.93,496.50 L1041.25,496.34 L1042.57,496.18 L1043.89,496.03 L1045.20,495.86 L1046.52,495.70 L1047.84,495.54 L1049.15,495.37 L1050.47,495.21 L1051.79,495.04 L1053.11,494.87 L1054.42,494.70 L1055.74,494.53 L1057.06,494.35 L1058.37,494.18 L1059.69,494.00 L1061.01,493.83 L1062.32,493.65 L1063.64,493.47 L1064.96,493.29 L1066.28,493.11 L1067.59,492.93 L1068.91,492.74 L1070.23,492.56 L1071.54,492.37 L1072.86,492.19 L1074.18,492.00 L1075.50,491.82 L1076.81,491.63 L1078.13,491.44 L1079.45,491.25 L1080.76,491.06 L1082.08,490.88 L1083.40,490.69 L1084.72,490.50 L1086.03,490.31 L1087.35,490.12 L1088.67,489.93 L1089.98,489.74 L1091.30,489.55 L1092.62,489.37 L1093.93,489.18 L1095.25,488.99 L1096.57,488.80 L1097.89,488.62 L1099.20,488.43 L1100.52,488.24 L1101.84,488.06 L1103.15,487.88 L1104.47,487.69 L1105.79,487.51 L1107.11,487.33 L1108.42,487.15 L1109.74,486.97 L1111.06,486.80 L1112.37,486.62 L1113.69,486.45 L1115.01,486.27 L1116.33,486.10 L1117.64,485.93 L1118.96,485.76 L1120.28,485.60 L1121.59,485.43 L1122.91,485.27 L1124.23,485.11 L1125.54,484.95 L1126.86,484.80 L1128.18,484.64 L1129.50,484.49 L1130.81,484.34 L1132.13,484.19 L1133.45,484.05 L1134.76,483.91 L1136.08,483.77 L1137.40,483.63 L1138.72,483.50 L1140.03,483.37 L1141.35,483.24 L1142.67,483.11 L1143.98,482.99 L1145.30,482.87 L1146.62,482.75 L1147.94,482.64 L1149.25,482.53 L1150.57,482.42 L1151.89,482.32 L1153.20,482.22 L1154.52,482.12 L1155.84,482.03 L1157.15,481.94 L1158.47,481.85 L1159.79,481.77 L1161.11,481.69 L1162.42,481.62 L1163.74,481.55 L1165.06,481.48 L1166.37,481.41 L1167.69,481.35 L1169.01,481.30 L1170.33,481.25 L1171.64,481.20 L1172.96,481.15 L1174.28,481.11 L1175.59,481.08 L1176.91,481.04 L1178.23,481.01 L1179.55,480.99 L1180.86,480.97 L1182.18,480.95 L1183.50,480.94 L1184.81,480.93 L1186.13,480.93 L1187.45,480.93 L1188.76,480.93 L1190.08,480.94 L1191.40,480.95 L1192.72,480.97 L1194.03,480.99 L1195.35,481.02 L1196.67,481.05 L1197.98,481.08 L1199.30,481.12 L1200.62,481.16 L1201.94,481.20 L1203.25,481.25 L1204.57,481.31 L1205.89,481.36 L1207.20,481.43 L1208.52,481.49 L1209.84,481.56 L1211.16,481.64 L1212.47,481.71 L1213.79,481.79 L1215.11,481.88 L1216.42,481.97 L1217.74,482.06 L1219.06,482.16 L1220.37,482.26 L1221.69,482.36 L1223.01,482.47 L1224.33,482.58 L1225.64,482.69 L1226.96,482.81 L1228.28,482.93 L1229.59,483.06 L1230.91,483.19 L1232.23,483.32 L1233.55,483.45 L1234.86,483.59 L1236.18,483.73 L1237.50,483.88 L1238.81,484.02 L1240.13,484.17 L1241.45,484.33 L1242.77,484.48 L1244.08,484.64 L1245.40,484.80 L1246.72,484.96 L1248.03,485.13 L1249.35,485.30 L1250.67,485.47 L1251.98,485.64 L1253.30,485.82 L1254.62,486.00 L1255.94,486.18 L1257.25,486.36 L1258.57,486.54 L1259.89,486.73 L1261.20,486.92 L1262.52,487.11 L1263.84,487.30 L1265.16,487.49 L1266.47,487.69 L1267.79,487.88 L1269.11,488.08 L1270.42,488.28 L1271.74,488.48 L1273.06,488.68 L1274.38,488.89 L1275.69,489.09 L1277.01,489.29 L1278.33,489.50 L1279.64,489.71 L1280.96,489.91 L1282.28,490.12 L1283.59,490.33 L1284.91,490.54 L1286.23,490.75 L1287.55,490.96 L1288.86,491.17 L1290.18,491.38 L1291.50,491.59 L1292.81,491.81 L1294.13,492.02 L1295.45,492.23 L1296.77,492.44 L1298.08,492.65 L1299.40,492.86 L1300.72,493.08 L1302.03,493.29 L1303.35,493.50 L1304.67,493.71 L1305.99,493.92 L1307.30,494.13 L1308.62,494.34 L1309.94,494.55 L1311.25,494.75 L1312.57,494.96 L1313.89,495.17 L1315.21,495.37 L1316.52,495.58 L1317.84,495.78 L1319.16,495.98 L1320.47,496.18 L1321.79,496.38 L1323.11,496.58 L1324.42,496.78 L1325.74,496.98 L1327.06,497.18 L1328.38,497.37 L1329.69,497.56 L1331.01,497.76 L1332.33,497.95 L1333.64,498.14 L1334.96,498.32 L1336.28,498.51 L1337.60,498.70 L1338.91,498.88 L1340.23,499.06 L1341.55,499.24 L1342.86,499.42 L1344.18,499.60 L1345.50,499.77 L1346.82,499.95 L1348.13,500.12 L1349.45,500.29 L1350.77,500.46 L1352.08,500.63 L1353.40,500.79 L1354.72,500.95 L1356.03,501.12 L1357.35,501.27 L1358.67,501.43 L1359.99,501.59 L1361.30,501.74 L1362.62,501.90 L1363.94,502.05 L1365.25,502.19 L1366.57,502.34 L1367.89,502.49 L1369.21,502.63 L1370.52,502.77 L1371.84,502.91 L1373.16,503.05 L1374.47,503.18 L1375.79,503.32 L1377.11,503.45 L1378.43,503.58 L1379.74,503.70 L1381.06,503.83 L1382.38,503.95 L1383.69,504.08 L1385.01,504.20 L1386.33,504.32 L1387.64,504.43 L1388.96,504.55 L1390.28,504.66 L1391.60,504.77 L1392.91,504.88 L1394.23,504.99 L1395.55,505.09 L1396.86,505.20 L1398.18,505.30 L1399.50,505.40 L1400.82,505.50 L1402.13,505.60 L1403.45,505.69 L1404.77,505.78 L1406.08,505.88 L1407.40,505.97 L1408.72,506.06 L1410.04,506.14 L1411.35,506.23 L1412.67,506.31 L1413.99,506.39 L1415.30,506.47 L1416.62,506.55 L1417.94,506.63 L1419.25,506.71 L1420.57,506.78 L1421.89,506.85 L1423.21,506.92 L1424.52,506.99 L1425.84,507.06 L1427.16,507.13 L1428.47,507.20 L1429.79,507.26 L1431.11,507.32 L1432.43,507.38 L1433.74,507.44 L1435.06,507.50 L1436.38,507.56 L1437.69,507.62 L1439.01,507.67 L1440.33,507.73 L1441.65,507.78 L1442.96,507.83 L1444.28,507.88 L1445.60,507.93 L1446.91,507.98 L1448.23,508.03 L1449.55,508.07 L1450.86,508.12 L1452.18,508.16 L1453.50,508.21 L1454.82,508.25 L1456.13,508.29 L1457.45,508.33 L1458.77,508.37 L1460.08,508.41 L1461.40,508.44 L1462.72,508.48 L1464.04,508.51 L1465.35,508.55 L1466.67,508.58 L1467.99,508.62 L1469.30,508.65 L1470.62,508.68 L1471.94,508.71 L1473.26,508.74 L1474.57,508.77 L1475.89,508.80 L1477.21,508.83 L1478.52,508.85 L1479.84,508.88 L1481.16,508.90 L1482.47,508.93 L1483.79,508.95 L1485.11,508.98 L1486.43,509.00 L1487.74,509.02 L1489.06,509.04 L1490.38,509.07 L1491.69,509.09 L1493.01,509.11 L1494.33,509.13 L1495.65,509.15 L1496.96,509.16" stroke="#505050" stroke-width="12.2"/>
<path d="M839.74,502.59 L841.05,502.55 L842.37,502.50 L843.69,502.45 L845.01,502.40 L846.32,502.35 L847.64,502.30 L848.96,502.25 L850.27,502.20 L851.59,502.15 L852.91,502.10 L854.23,502.05 L855.54,502.00 L856.86,501.95 L858.18,501.90 L859.49,501.85 L860.81,501.80 L862.13,501.75 L863.44,501.70 L864.76,501.64 L866.08,501.59 L867.40,501.54 L868.71,501.49 L870.03,501.43 L871.35,501.38 L872.66,501.33 L873.98,501.27 L875.30,501.22 L876.62,501.16 L877.93,501.11 L879.25,501.05 L880.57,500.99 L881.88,500.94 L883.20,500.88 L884.52,500.82 L885.84,500.77 L887.15,500.71 L888.47,500.65 L889.79,500.59 L891.10,500.53 L892.42,500.47 L893.74,500.41 L895.05,500.35 L896.37,500.28 L897.69,500.22 L899.01,500.16 L900.32,500.09 L901.64,500.03 L902.96,499.96 L904.27,499.89 L905.59,499.83 L906.91,499.76 L908.23,499.69 L909.54,499.62 L910.86,499.55 L912.18,499.48 L913.49,499.41 L914.81,499.34 L916.13,499.26 L917.45,499.19 L918.76,499.11 L920.08,499.03 L921.40,498.95 L922.71,498.88 L924.03,498.80 L925.35,498.71 L926.66,498.63 L927.98,498.55 L929.30,498.46 L930.62,498.38 L931.93,498.29 L933.25,498.20 L934.57,498.11 L935.88,498.02 L937.20,497.92 L938.52,497.83 L939.84,497.73 L941.15,497.64 L942.47,497.54 L943.79,497.44 L945.10,497.33 L946.42,497.23 L947.74,497.12 L949.06,497.01 L950.37,496.90 L951.69,496.79 L953.01,496.68 L954.32,496.56 L955.64,496.45 L956.96,496.33 L958.27,496.21 L959.59,496.08 L960.91,495.96 L962.23,495.83 L963.54,495.70 L964.86,495.57 L966.18,495.43 L967.49,495.30 L968.81,495.16 L970.13,495.02 L971.45,494.87 L972.76,494.73 L974.08,494.58 L975.40,494.43 L976.71,494.27 L978.03,494.12 L979.35,493.96 L980.67,493.79 L981.98,493.63 L983.30,493.46 L984.62,493.29 L985.93,493.12 L987.25,492.94 L988.57,492.77 L989.88,492.58 L991.20,492.40 L992.52,492.21 L993.84,492.02 L995.15,491.83 L996.47,491.63 L997.79,491.43 L999.10,491.23 L1000.42,491.02 L1001.74,490.81 L1003.06,490.60 L1004.37,490.38 L1005.69,490.17 L1007.01,489.94 L1008.32,489.72 L1009.64,489.49 L1010.96,489.26 L1012.28,489.02 L1013.59,488.78 L1014.91,488.54 L1016.23,488.30 L1017.54,488.05 L1018.86,487.80 L1020.18,487.54 L1021.49,487.28 L1022.81,487.02 L1024.13,486.75 L1025.45,486.49 L1026.76,486.21 L1028.08,485.94 L1029.40,485.66 L1030.71,485.38 L1032.03,485.09 L1033.35,484.80 L1034.67,484.51 L1035.98,484.22 L1037.30,483.92 L1038.62,483.62 L1039.93,483.32 L1041.25,483.01 L1042.57,482.70 L1043.89,482.38 L1045.20,482.07 L1046.52,481.75 L1047.84,481.43 L1049.15,481.10 L1050.47,480.77 L1051.79,480.44 L1053.11,480.11 L1054.42,479.77 L1055.74,479.44 L1057.06,479.09 L1058.37,478.75 L1059.69,478.41 L1061.01,478.06 L1062.32,477.71 L1063.64,477.36 L1064.96,477.00 L1066.28,476.64 L1067.59,476.29 L1068.91,475.93 L1070.23,475.56 L1071.54,475.20 L1072.86,474.84 L1074.18,474.47 L1075.50,474.10 L1076.81,473.73 L1078.13,473.36 L1079.45,472.99 L1080.76,472.62 L1082.08,472.25 L1083.40,471.88 L1084.72,471.50 L1086.03,471.13 L1087.35,470.75 L1088.67,470.38 L1089.98,470.00 L1091.30,469.63 L1092.62,469.25 L1093.93,468.88 L1095.25,468.51 L1096.57,468.13 L1097.89,467.76 L1099.20,467.39 L1100.52,467.02 L1101.84,466.65 L1103.15,466.28 L1104.47,465.92 L1105.79,465.55 L1107.11,465.19 L1108.42,464.83 L1109.74,464.47 L1111.06,464.11 L1112.37,463.76 L1113.69,463.40 L1115.01,463.05 L1116.33,462.71 L1117.64,462.36 L1118.96,462.02 L1120.28,461.68 L1121.59,461.35 L1122.91,461.02 L1124.23,460.69 L1125.54,460.37 L1126.86,460.05 L1128.18,459.73 L1129.50,459.42 L1130.81,459.12 L1132.13,458.81 L1133.45,458.52 L1134.76,458.22 L1136.08,457.94 L1137.40,457.65 L1138.72,457.38 L1140.03,457.11 L1141.35,456.84 L1142.67,456.58 L1143.98,456.33 L1145.30,456.08 L1146.62,455.84 L1147.94,455.60 L1149.25,455.37 L1150.57,455.15 L1151.89,454.93 L1153.20,454.72 L1154.52,454.52 L1155.84,454.32 L1157.15,454.13 L1158.47,453.95 L1159.79,453.77 L1161.11,453.61 L1162.42,453.45 L1163.74,453.30 L1165.06,453.15 L1166.37,453.01 L1167.69,452.88 L1169.01,452.76 L1170.33,452.65 L1171.64,452.55 L1172.96,452.45 L1174.28,452.36 L1175.59,452.28 L1176.91,452.21 L1178.23,452.14 L1179.55,452.09 L1180.86,452.04 L1182.18,452.00 L1183.50,451.97 L1184.81,451.95 L1186.13,451.94 L1187.45,451.93 L1188.76,451.94 L1190.08,451.95 L1191.40,451.97 L1192.72,452.00 L1194.03,452.04 L1195.35,452.09 L1196.67,452.14 L1197.98,452.21 L1199.30,452.28 L1200.62,452.36 L1201.94,452.45 L1203.25,452.55 L1204.57,452.66 L1205.89,452.78 L1207.20,452.90 L1208.52,453.04 L1209.84,453.18 L1211.16,453.33 L1212.47,453.48 L1213.79,453.65 L1215.11,453.82 L1216.42,454.01 L1217.74,454.20 L1219.06,454.39 L1220.37,454.60 L1221.69,454.81 L1223.01,455.03 L1224.33,455.26 L1225.64,455.50 L1226.96,455.74 L1228.28,455.99 L1229.59,456.25 L1230.91,456.51 L1232.23,456.78 L1233.55,457.06 L1234.86,457.35 L1236.18,457.64 L1237.50,457.94 L1238.81,458.24 L1240.13,458.55 L1241.45,458.87 L1242.77,459.19 L1244.08,459.52 L1245.40,459.85 L1246.72,460.19 L1248.03,460.53 L1249.35,460.88 L1250.67,461.24 L1251.98,461.60 L1253.30,461.96 L1254.62,462.33 L1255.94,462.70 L1257.25,463.08 L1258.57,463.46 L1259.89,463.84 L1261.20,464.23 L1262.52,464.63 L1263.84,465.02 L1265.16,465.42 L1266.47,465.83 L1267.79,466.23 L1269.11,466.64 L1270.42,467.05 L1271.74,467.47 L1273.06,467.88 L1274.38,468.30 L1275.69,468.72 L1277.01,469.15 L1278.33,469.57 L1279.64,470.00 L1280.96,470.42 L1282.28,470.85 L1283.59,471.28 L1284.91,471.71 L1286.23,472.15 L1287.55,472.58 L1288.86,473.01 L1290.18,473.45 L1291.50,473.88 L1292.81,474.32 L1294.13,474.75 L1295.45,475.18 L1296.77,475.62 L1298.08,476.05 L1299.40,476.48 L1300.72,476.92 L1302.03,477.35 L1303.35,477.78 L1304.67,478.21 L1305.99,478.64 L1307.30,479.06 L1308.62,479.49 L1309.94,479.91 L1311.25,480.34 L1312.57,480.76 L1313.89,481.18 L1315.21,481.59 L1316.52,482.01 L1317.84,482.42 L1319.16,482.83 L1320.47,483.24 L1321.79,483.65 L1323.11,484.05 L1324.42,484.45 L1325.74,484.85 L1327.06,485.24 L1328.38,485.64 L1329.69,486.02 L1331.01,486.41 L1332.33,486.79 L1333.64,487.17 L1334.96,487.55 L1336.28,487.92 L1337.60,488.30 L1338.91,488.66 L1340.23,489.03 L1341.55,489.39 L1342.86,489.74 L1344.18,490.09 L1345.50,490.44 L1346.82,490.79 L1348.13,491.13 L1349.45,491.47 L1350.77,491.80 L1352.08,492.13 L1353.40,492.46 L1354.72,492.78 L1356.03,493.10 L1357.35,493.42 L1358.67,493.73 L1359.99,494.03 L1361.30,494.34 L1362.62,494.64 L1363.94,494.93 L1365.25,495.22 L1366.57,495.51 L1367.89,495.79 L1369.21,496.07 L1370.52,496.35 L1371.84,496.62 L1373.16,496.89 L1374.47,497.15 L1375.79,497.41 L1377.11,497.66 L1378.43,497.92 L1379.74,498.16 L1381.06,498.41 L1382.38,498.65 L1383.69,498.88 L1385.01,499.11 L1386.33,499.34 L1387.64,499.57 L1388.96,499.79 L1390.28,500.00 L1391.60,500.22 L1392.91,500.43 L1394.23,500.63 L1395.55,500.83 L1396.86,501.03 L1398.18,501.23 L1399.50,501.42 L1400.82,501.60 L1402.13,501.79 L1403.45,501.97 L1404.77,502.15 L1406.08,502.32 L1407.40,502.49 L1408.72,502.66 L1410.04,502.82 L1411.35,502.98 L1412.67,503.14 L1413.99,503.29 L1415.30,503.44 L1416.62,503.59 L1417.94,503.74 L1419.25,503.88 L1420.57,504.02 L1421.89,504.15 L1423.21,504.29 L1424.52,504.42 L1425.84,504.55 L1427.16,504.67 L1428.47,504.79 L1429.79,504.91 L1431.11,505.03 L1432.43,505.14 L1433.74,505.26 L1435.06,505.37 L1436.38,505.47 L1437.69,505.58 L1439.01,505.68 L1440.33,505.78 L1441.65,505.88 L1442.96,505.97 L1444.28,506.06 L1445.60,506.16 L1446.91,506.24 L1448.23,506.33 L1449.55,506.42 L1450.86,506.50 L1452.18,506.58 L1453.50,506.66 L1454.82,506.74 L1456.13,506.81 L1457.45,506.88 L1458.77,506.96 L1460.08,507.03 L1461.40,507.09 L1462.72,507.16 L1464.04,507.22 L1465.35,507.29 L1466.67,507.35 L1467.99,507.41 L1469.30,507.47 L1470.62,507.53 L1471.94,507.58 L1473.26,507.64 L1474.57,507.69 L1475.89,507.74 L1477.21,507.79 L1478.52,507.84 L1479.84,507.89 L1481.16,507.94 L1482.47,507.98 L1483.79,508.03 L1485.11,508.07 L1486.43,508.11 L1487.74,508.15 L1489.06,508.19 L1490.38,508.23 L1491.69,508.27 L1493.01,508.31 L1494.33,508.34 L1495.65,508.38 L1496.96,508.41" stroke="#ef4040" stroke-width="13.3"/>
<path d="M839.74,495.16 L841.05,495.04 L842.37,494.93 L843.69,494.81 L845.01,494.70 L846.32,494.58 L847.64,494.47 L848.96,494.35 L850.27,494.24 L851.59,494.12 L852.91,494.00 L854.23,493.88 L855.54,493.76 L856.86,493.64 L858.18,493.52 L859.49,493.40 L860.81,493.28 L862.13,493.16 L863.44,493.04 L864.76,492.92 L866.08,492.79 L867.40,492.67 L868.71,492.55 L870.03,492.42 L871.35,492.30 L872.66,492.17 L873.98,492.05 L875.30,491.92 L876.62,491.79 L877.93,491.66 L879.25,491.53 L880.57,491.40 L881.88,491.27 L883.20,491.14 L884.52,491.01 L885.84,490.88 L887.15,490.74 L888.47,490.61 L889.79,490.47 L891.10,490.34 L892.42,490.20 L893.74,490.06 L895.05,489.93 L896.37,489.79 L897.69,489.64 L899.01,489.50 L900.32,489.36 L901.64,489.22 L902.96,489.07 L904.27,488.93 L905.59,488.78 L906.91,488.63 L908.23,488.48 L909.54,488.33 L910.86,488.18 L912.18,488.02 L913.49,487.87 L914.81,487.71 L916.13,487.55 L917.45,487.39 L918.76,487.23 L920.08,487.07 L921.40,486.91 L922.71,486.74 L924.03,486.57 L925.35,486.40 L926.66,486.23 L927.98,486.06 L929.30,485.88 L930.62,485.70 L931.93,485.52 L933.25,485.34 L934.57,485.16 L935.88,484.97 L937.20,484.78 L938.52,484.59 L939.84,484.40 L941.15,484.20 L942.47,484.00 L943.79,483.80 L945.10,483.60 L946.42,483.39 L947.74,483.18 L949.06,482.97 L950.37,482.75 L951.69,482.53 L953.01,482.31 L954.32,482.09 L955.64,481.86 L956.96,481.63 L958.27,481.39 L959.59,481.15 L960.91,480.91 L962.23,480.66 L963.54,480.41 L964.86,480.16 L966.18,479.90 L967.49,479.64 L968.81,479.37 L970.13,479.10 L971.45,478.83 L972.76,478.55 L974.08,478.27 L975.40,477.98 L976.71,477.69 L978.03,477.39 L979.35,477.09 L980.67,476.78 L981.98,476.47 L983.30,476.15 L984.62,475.83 L985.93,475.50 L987.25,475.17 L988.57,474.83 L989.88,474.49 L991.20,474.14 L992.52,473.79 L993.84,473.43 L995.15,473.06 L996.47,472.69 L997.79,472.31 L999.10,471.93 L1000.42,471.54 L1001.74,471.15 L1003.06,470.75 L1004.37,470.34 L1005.69,469.92 L1007.01,469.50 L1008.32,469.08 L1009.64,468.64 L1010.96,468.20 L1012.28,467.76 L1013.59,467.30 L1014.91,466.84 L1016.23,466.38 L1017.54,465.91 L1018.86,465.43 L1020.18,464.94 L1021.49,464.45 L1022.81,463.95 L1024.13,463.44 L1025.45,462.93 L1026.76,462.40 L1028.08,461.88 L1029.40,461.34 L1030.71,460.80 L1032.03,460.25 L1033.35,459.70 L1034.67,459.14 L1035.98,458.57 L1037.30,457.99 L1038.62,457.41 L1039.93,456.82 L1041.25,456.23 L1042.57,455.62 L1043.89,455.01 L1045.20,454.40 L1046.52,453.78 L1047.84,453.15 L1049.15,452.51 L1050.47,451.87 L1051.79,451.22 L1053.11,450.57 L1054.42,449.91 L1055.74,449.25 L1057.06,448.58 L1058.37,447.90 L1059.69,447.22 L1061.01,446.53 L1062.32,445.84 L1063.64,445.14 L1064.96,444.43 L1066.28,443.73 L1067.59,443.01 L1068.91,442.30 L1070.23,441.57 L1071.54,440.85 L1072.86,440.12 L1074.18,439.39 L1075.50,438.65 L1076.81,437.91 L1078.13,437.16 L1079.45,436.42 L1080.76,435.67 L1082.08,434.91 L1083.40,434.16 L1084.72,433.40 L1086.03,432.65 L1087.35,431.89 L1088.67,431.12 L1089.98,430.36 L1091.30,429.60 L1092.62,428.83 L1093.93,428.07 L1095.25,427.31 L1096.57,426.54 L1097.89,425.78 L1099.20,425.02 L1100.52,424.26 L1101.84,423.50 L1103.15,422.74 L1104.47,421.98 L1105.79,421.23 L1107.11,420.48 L1108.42,419.73 L1109.74,418.99 L1111.06,418.25 L1112.37,417.51 L1113.69,416.78 L1115.01,416.05 L1116.33,415.33 L1117.64,414.61 L1118.96,413.90 L1120.28,413.19 L1121.59,412.49 L1122.91,411.80 L1124.23,411.12 L1125.54,410.44 L1126.86,409.77 L1128.18,409.11 L1129.50,408.45 L1130.81,407.81 L1132.13,407.17 L1133.45,406.54 L1134.76,405.93 L1136.08,405.32 L1137.40,404.72 L1138.72,404.14 L1140.03,403.56 L1141.35,403.00 L1142.67,402.45 L1143.98,401.91 L1145.30,401.38 L1146.62,400.86 L1147.94,400.36 L1149.25,399.87 L1150.57,399.39 L1151.89,398.93 L1153.20,398.48 L1154.52,398.05 L1155.84,397.63 L1157.15,397.22 L1158.47,396.83 L1159.79,396.46 L1161.11,396.10 L1162.42,395.76 L1163.74,395.43 L1165.06,395.12 L1166.37,394.82 L1167.69,394.55 L1169.01,394.28 L1170.33,394.04 L1171.64,393.81 L1172.96,393.60 L1174.28,393.41 L1175.59,393.23 L1176.91,393.08 L1178.23,392.94 L1179.55,392.81 L1180.86,392.71 L1182.18,392.62 L1183.50,392.56 L1184.81,392.51 L1186.13,392.48 L1187.45,392.46 L1188.76,392.47 L1190.08,392.49 L1191.40,392.54 L1192.72,392.60 L1194.03,392.68 L1195.35,392.78 L1196.67,392.89 L1197.98,393.03 L1199.30,393.18 L1200.62,393.35 L1201.94,393.54 L1203.25,393.75 L1204.57,393.98 L1205.89,394.22 L1207.20,394.49 L1208.52,394.77 L1209.84,395.07 L1211.16,395.38 L1212.47,395.72 L1213.79,396.07 L1215.11,396.44 L1216.42,396.82 L1217.74,397.22 L1219.06,397.64 L1220.37,398.08 L1221.69,398.53 L1223.01,398.99 L1224.33,399.48 L1225.64,399.98 L1226.96,400.49 L1228.28,401.02 L1229.59,401.56 L1230.91,402.12 L1232.23,402.70 L1233.55,403.28 L1234.86,403.88 L1236.18,404.50 L1237.50,405.13 L1238.81,405.77 L1240.13,406.42 L1241.45,407.09 L1242.77,407.76 L1244.08,408.45 L1245.40,409.15 L1246.72,409.86 L1248.03,410.59 L1249.35,411.32 L1250.67,412.06 L1251.98,412.81 L1253.30,413.58 L1254.62,414.35 L1255.94,415.13 L1257.25,415.91 L1258.57,416.71 L1259.89,417.51 L1261.20,418.32 L1262.52,419.14 L1263.84,419.97 L1265.16,420.80 L1266.47,421.63 L1267.79,422.48 L1269.11,423.32 L1270.42,424.18 L1271.74,425.03 L1273.06,425.89 L1274.38,426.76 L1275.69,427.63 L1277.01,428.50 L1278.33,429.37 L1279.64,430.25 L1280.96,431.13 L1282.28,432.01 L1283.59,432.89 L1284.91,433.77 L1286.23,434.65 L1287.55,435.54 L1288.86,436.42 L1290.18,437.31 L1291.50,438.19 L1292.81,439.07 L1294.13,439.95 L1295.45,440.84 L1296.77,441.71 L1298.08,442.59 L1299.40,443.47 L1300.72,444.34 L1302.03,445.21 L1303.35,446.07 L1304.67,446.94 L1305.99,447.80 L1307.30,448.65 L1308.62,449.51 L1309.94,450.36 L1311.25,451.20 L1312.57,452.04 L1313.89,452.87 L1315.21,453.70 L1316.52,454.53 L1317.84,455.34 L1319.16,456.16 L1320.47,456.97 L1321.79,457.77 L1323.11,458.56 L1324.42,459.35 L1325.74,460.13 L1327.06,460.91 L1328.38,461.68 L1329.69,462.44 L1331.01,463.20 L1332.33,463.95 L1333.64,464.69 L1334.96,465.42 L1336.28,466.15 L1337.60,466.87 L1338.91,467.58 L1340.23,468.28 L1341.55,468.98 L1342.86,469.67 L1344.18,470.35 L1345.50,471.02 L1346.82,471.68 L1348.13,472.34 L1349.45,472.99 L1350.77,473.63 L1352.08,474.26 L1353.40,474.88 L1354.72,475.50 L1356.03,476.10 L1357.35,476.70 L1358.67,477.29 L1359.99,477.88 L1361.30,478.45 L1362.62,479.02 L1363.94,479.57 L1365.25,480.12 L1366.57,480.66 L1367.89,481.20 L1369.21,481.72 L1370.52,482.24 L1371.84,482.75 L1373.16,483.25 L1374.47,483.74 L1375.79,484.23 L1377.11,484.70 L1378.43,485.17 L1379.74,485.63 L1381.06,486.09 L1382.38,486.53 L1383.69,486.97 L1385.01,487.40 L1386.33,487.82 L1387.64,488.24 L1388.96,488.65 L1390.28,489.05 L1391.60,489.44 L1392.91,489.83 L1394.23,490.21 L1395.55,490.58 L1396.86,490.95 L1398.18,491.30 L1399.50,491.66 L1400.82,492.00 L1402.13,492.34 L1403.45,492.67 L1404.77,493.00 L1406.08,493.32 L1407.40,493.63 L1408.72,493.94 L1410.04,494.24 L1411.35,494.54 L1412.67,494.82 L1413.99,495.11 L1415.30,495.39 L1416.62,495.66 L1417.94,495.93 L1419.25,496.19 L1420.57,496.44 L1421.89,496.70 L1423.21,496.94 L1424.52,497.18 L1425.84,497.42 L1427.16,497.65 L1428.47,497.88 L1429.79,498.10 L1431.11,498.31 L1432.43,498.53 L1433.74,498.73 L1435.06,498.94 L1436.38,499.14 L1437.69,499.33 L1439.01,499.52 L1440.33,499.71 L1441.65,499.90 L1442.96,500.07 L1444.28,500.25 L1445.60,500.42 L1446.91,500.59 L1448.23,500.76 L1449.55,500.92 L1450.86,501.08 L1452.18,501.23 L1453.50,501.38 L1454.82,501.53 L1456.13,501.68 L1457.45,501.82 L1458.77,501.96 L1460.08,502.09 L1461.40,502.23 L1462.72,502.36 L1464.04,502.49 L1465.35,502.61 L1466.67,502.73 L1467.99,502.86 L1469.30,502.97 L1470.62,503.09 L1471.94,503.20 L1473.26,503.31 L1474.57,503.42 L1475.89,503.53 L1477.21,503.63 L1478.52,503.74 L1479.84,503.84 L1481.16,503.93 L1482.47,504.03 L1483.79,504.13 L1485.11,504.22 L1486.43,504.31 L1487.74,504.40 L1489.06,504.49 L1490.38,504.57 L1491.69,504.66 L1493.01,504.74 L1494.33,504.82 L1495.65,504.90 L1496.96,504.98" stroke="#009200" stroke-width="14.0"/>
<path d="M839.74,486.10 L841.05,485.92 L842.37,485.73 L843.69,485.54 L845.01,485.35 L846.32,485.15 L847.64,484.95 L848.96,484.75 L850.27,484.54 L851.59,484.33 L852.91,484.12 L854.23,483.90 L855.54,483.68 L856.86,483.46 L858.18,483.23 L859.49,483.00 L860.81,482.76 L862.13,482.52 L863.44,482.28 L864.76,482.03 L866.08,481.78 L867.40,481.52 L868.71,481.26 L870.03,480.99 L871.35,480.72 L872.66,480.44 L873.98,480.17 L875.30,479.88 L876.62,479.59 L877.93,479.30 L879.25,479.00 L880.57,478.70 L881.88,478.39 L883.20,478.08 L884.52,477.76 L885.84,477.44 L887.15,477.11 L888.47,476.78 L889.79,476.44 L891.10,476.10 L892.42,475.75 L893.74,475.40 L895.05,475.05 L896.37,474.69 L897.69,474.32 L899.01,473.96 L900.32,473.58 L901.64,473.21 L902.96,472.82 L904.27,472.44 L905.59,472.05 L906.91,471.65 L908.23,471.26 L909.54,470.85 L910.86,470.45 L912.18,470.04 L913.49,469.63 L914.81,469.21 L916.13,468.79 L917.45,468.37 L918.76,467.94 L920.08,467.51 L921.40,467.08 L922.71,466.64 L924.03,466.20 L925.35,465.76 L926.66,465.31 L927.98,464.87 L929.30,464.41 L930.62,463.96 L931.93,463.50 L933.25,463.04 L934.57,462.58 L935.88,462.12 L937.20,461.65 L938.52,461.18 L939.84,460.71 L941.15,460.23 L942.47,459.75 L943.79,459.27 L945.10,458.78 L946.42,458.30 L947.74,457.80 L949.06,457.31 L950.37,456.81 L951.69,456.31 L953.01,455.81 L954.32,455.30 L955.64,454.79 L956.96,454.27 L958.27,453.75 L959.59,453.22 L960.91,452.69 L962.23,452.16 L963.54,451.62 L964.86,451.08 L966.18,450.53 L967.49,449.97 L968.81,449.41 L970.13,448.84 L971.45,448.27 L972.76,447.68 L974.08,447.10 L975.40,446.50 L976.71,445.90 L978.03,445.29 L979.35,444.67 L980.67,444.04 L981.98,443.40 L983.30,442.76 L984.62,442.10 L985.93,441.44 L987.25,440.76 L988.57,440.08 L989.88,439.38 L991.20,438.67 L992.52,437.96 L993.84,437.23 L995.15,436.49 L996.47,435.73 L997.79,434.97 L999.10,434.19 L1000.42,433.40 L1001.74,432.60 L1003.06,431.78 L1004.37,430.95 L1005.69,430.11 L1007.01,429.25 L1008.32,428.38 L1009.64,427.50 L1010.96,426.60 L1012.28,425.68 L1013.59,424.76 L1014.91,423.81 L1016.23,422.86 L1017.54,421.88 L1018.86,420.90 L1020.18,419.90 L1021.49,418.88 L1022.81,417.85 L1024.13,416.80 L1025.45,415.74 L1026.76,414.66 L1028.08,413.57 L1029.40,412.46 L1030.71,411.34 L1032.03,410.20 L1033.35,409.05 L1034.67,407.89 L1035.98,406.71 L1037.30,405.51 L1038.62,404.30 L1039.93,403.08 L1041.25,401.85 L1042.57,400.60 L1043.89,399.33 L1045.20,398.06 L1046.52,396.77 L1047.84,395.47 L1049.15,394.15 L1050.47,392.82 L1051.79,391.49 L1053.11,390.14 L1054.42,388.78 L1055.74,387.40 L1057.06,386.02 L1058.37,384.63 L1059.69,383.23 L1061.01,381.82 L1062.32,380.40 L1063.64,378.97 L1064.96,377.53 L1066.28,376.09 L1067.59,374.63 L1068.91,373.17 L1070.23,371.71 L1071.54,370.24 L1072.86,368.76 L1074.18,367.28 L1075.50,365.79 L1076.81,364.30 L1078.13,362.80 L1079.45,361.30 L1080.76,359.80 L1082.08,358.30 L1083.40,356.80 L1084.72,355.29 L1086.03,353.78 L1087.35,352.28 L1088.67,350.77 L1089.98,349.27 L1091.30,347.76 L1092.62,346.26 L1093.93,344.76 L1095.25,343.27 L1096.57,341.78 L1097.89,340.29 L1099.20,338.81 L1100.52,337.33 L1101.84,335.86 L1103.15,334.40 L1104.47,332.94 L1105.79,331.49 L1107.11,330.05 L1108.42,328.62 L1109.74,327.20 L1111.06,325.79 L1112.37,324.39 L1113.69,323.00 L1115.01,321.62 L1116.33,320.25 L1117.64,318.90 L1118.96,317.56 L1120.28,316.24 L1121.59,314.93 L1122.91,313.64 L1124.23,312.36 L1125.54,311.10 L1126.86,309.85 L1128.18,308.62 L1129.50,307.41 L1130.81,306.22 L1132.13,305.05 L1133.45,303.90 L1134.76,302.77 L1136.08,301.66 L1137.40,300.57 L1138.72,299.50 L1140.03,298.45 L1141.35,297.43 L1142.67,296.43 L1143.98,295.45 L1145.30,294.50 L1146.62,293.58 L1147.94,292.67 L1149.25,291.80 L1150.57,290.95 L1151.89,290.12 L1153.20,289.32 L1154.52,288.55 L1155.84,287.81 L1157.15,287.10 L1158.47,286.41 L1159.79,285.75 L1161.11,285.12 L1162.42,284.52 L1163.74,283.95 L1165.06,283.41 L1166.37,282.90 L1167.69,282.42 L1169.01,281.98 L1170.33,281.56 L1171.64,281.17 L1172.96,280.82 L1174.28,280.49 L1175.59,280.20 L1176.91,279.94 L1178.23,279.71 L1179.55,279.52 L1180.86,279.36 L1182.18,279.23 L1183.50,279.13 L1184.81,279.07 L1186.13,279.03 L1187.45,279.04 L1188.76,279.07 L1190.08,279.14 L1191.40,279.24 L1192.72,279.37 L1194.03,279.54 L1195.35,279.74 L1196.67,279.97 L1197.98,280.23 L1199.30,280.53 L1200.62,280.86 L1201.94,281.23 L1203.25,281.62 L1204.57,282.05 L1205.89,282.51 L1207.20,283.00 L1208.52,283.52 L1209.84,284.08 L1211.16,284.66 L1212.47,285.28 L1213.79,285.93 L1215.11,286.61 L1216.42,287.32 L1217.74,288.06 L1219.06,288.82 L1220.37,289.62 L1221.69,290.45 L1223.01,291.31 L1224.33,292.19 L1225.64,293.10 L1226.96,294.04 L1228.28,295.01 L1229.59,296.01 L1230.91,297.03 L1232.23,298.07 L1233.55,299.15 L1234.86,300.24 L1236.18,301.37 L1237.50,302.51 L1238.81,303.69 L1240.13,304.88 L1241.45,306.10 L1242.77,307.34 L1244.08,308.60 L1245.40,309.88 L1246.72,311.19 L1248.03,312.51 L1249.35,313.85 L1250.67,315.22 L1251.98,316.60 L1253.30,318.00 L1254.62,319.42 L1255.94,320.85 L1257.25,322.31 L1258.57,323.77 L1259.89,325.26 L1261.20,326.76 L1262.52,328.27 L1263.84,329.79 L1265.16,331.33 L1266.47,332.89 L1267.79,334.45 L1269.11,336.03 L1270.42,337.61 L1271.74,339.21 L1273.06,340.82 L1274.38,342.43 L1275.69,344.06 L1277.01,345.69 L1278.33,347.33 L1279.64,348.98 L1280.96,350.63 L1282.28,352.29 L1283.59,353.96 L1284.91,355.63 L1286.23,357.30 L1287.55,358.98 L1288.86,360.66 L1290.18,362.34 L1291.50,364.03 L1292.81,365.71 L1294.13,367.40 L1295.45,369.09 L1296.77,370.77 L1298.08,372.46 L1299.40,374.15 L1300.72,375.83 L1302.03,377.51 L1303.35,379.19 L1304.67,380.87 L1305.99,382.54 L1307.30,384.21 L1308.62,385.88 L1309.94,387.54 L1311.25,389.19 L1312.57,390.84 L1313.89,392.49 L1315.21,394.12 L1316.52,395.75 L1317.84,397.38 L1319.16,398.99 L1320.47,400.60 L1321.79,402.20 L1323.11,403.79 L1324.42,405.37 L1325.74,406.94 L1327.06,408.51 L1328.38,410.06 L1329.69,411.60 L1331.01,413.13 L1332.33,414.65 L1333.64,416.16 L1334.96,417.66 L1336.28,419.14 L1337.60,420.62 L1338.91,422.08 L1340.23,423.53 L1341.55,424.97 L1342.86,426.39 L1344.18,427.80 L1345.50,429.20 L1346.82,430.59 L1348.13,431.96 L1349.45,433.32 L1350.77,434.66 L1352.08,435.99 L1353.40,437.31 L1354.72,438.61 L1356.03,439.89 L1357.35,441.17 L1358.67,442.43 L1359.99,443.67 L1361.30,444.90 L1362.62,446.11 L1363.94,447.31 L1365.25,448.50 L1366.57,449.67 L1367.89,450.82 L1369.21,451.96 L1370.52,453.08 L1371.84,454.19 L1373.16,455.29 L1374.47,456.37 L1375.79,457.43 L1377.11,458.48 L1378.43,459.51 L1379.74,460.53 L1381.06,461.53 L1382.38,462.52 L1383.69,463.50 L1385.01,464.46 L1386.33,465.40 L1387.64,466.33 L1388.96,467.24 L1390.28,468.15 L1391.60,469.03 L1392.91,469.90 L1394.23,470.76 L1395.55,471.60 L1396.86,472.43 L1398.18,473.24 L1399.50,474.04 L1400.82,474.83 L1402.13,475.60 L1403.45,476.36 L1404.77,477.11 L1406.08,477.84 L1407.40,478.56 L1408.72,479.26 L1410.04,479.95 L1411.35,480.63 L1412.67,481.30 L1413.99,481.95 L1415.30,482.59 L1416.62,483.22 L1417.94,483.84 L1419.25,484.44 L1420.57,485.03 L1421.89,485.62 L1423.21,486.18 L1424.52,486.74 L1425.84,487.29 L1427.16,487.82 L1428.47,488.35 L1429.79,488.86 L1431.11,489.36 L1432.43,489.85 L1433.74,490.33 L1435.06,490.80 L1436.38,491.26 L1437.69,491.71 L1439.01,492.16 L1440.33,492.59 L1441.65,493.01 L1442.96,493.42 L1444.28,493.82 L1445.60,494.22 L1446.91,494.60 L1448.23,494.98 L1449.55,495.34 L1450.86,495.70 L1452.18,496.05 L1453.50,496.40 L1454.82,496.73 L1456.13,497.06 L1457.45,497.38 L1458.77,497.69 L1460.08,497.99 L1461.40,498.29 L1462.72,498.58 L1464.04,498.86 L1465.35,499.14 L1466.67,499.41 L1467.99,499.67 L1469.30,499.93 L1470.62,500.18 L1471.94,500.42 L1473.26,500.66 L1474.57,500.89 L1475.89,501.11 L1477.21,501.33 L1478.52,501.55 L1479.84,501.76 L1481.16,501.96 L1482.47,502.16 L1483.79,502.35 L1485.11,502.54 L1486.43,502.73 L1487.74,502.90 L1489.06,503.08 L1490.38,503.25 L1491.69,503.41 L1493.01,503.58 L1494.33,503.73 L1495.65,503.89 L1496.96,504.03" stroke="#5f70ff" stroke-width="13.7"/>
</g>
<rect x="857.5" y="9.1" width="621.7" height="500.79999999999995" fill="none" stroke="#000" stroke-width="2.1"/>
<line x1="847.5" y1="509.90" x2="857.5" y2="509.90" stroke="#000" stroke-width="2"/>
<g transform="translate(841.20,517.00)">
<text transform="translate(-30.17,0) scale(1,1.0400)" font-size="21.7">0</text>
<text transform="translate(-18.10,0) scale(1,1.0000)" font-size="21.7">/</text>
<text transform="translate(-12.07,0) scale(1,1.0400)" font-size="21.7">0</text>
</g>
<line x1="852.5" y1="484.86" x2="857.5" y2="484.86" stroke="#000" stroke-width="2"/>
<line x1="847.5" y1="459.82" x2="857.5" y2="459.82" stroke="#000" stroke-width="2"/>
<g transform="translate(841.20,467.00)">
<text transform="translate(-30.17,0) scale(1,1.0400)" font-size="21.7">0</text>
<text transform="translate(-18.10,0) scale(1,1.0000)" font-size="21.7">/</text>
<text transform="translate(-12.07,0) scale(1,1.0400)" font-size="21.7">2</text>
</g>
<line x1="852.5" y1="434.78" x2="857.5" y2="434.78" stroke="#000" stroke-width="2"/>
<line x1="847.5" y1="409.74" x2="857.5" y2="409.74" stroke="#000" stroke-width="2"/>
<g transform="translate(841.20,417.00)">
<text transform="translate(-30.17,0) scale(1,1.0400)" font-size="21.7">0</text>
<text transform="translate(-18.10,0) scale(1,1.0000)" font-size="21.7">/</text>
<text transform="translate(-12.07,0) scale(1,1.0400)" font-size="21.7">4</text>
</g>
<line x1="852.5" y1="384.70" x2="857.5" y2="384.70" stroke="#000" stroke-width="2"/>
<line x1="847.5" y1="359.66" x2="857.5" y2="359.66" stroke="#000" stroke-width="2"/>
<g transform="translate(841.20,366.00)">
<text transform="translate(-30.17,0) scale(1,1.0400)" font-size="21.7">0</text>
<text transform="translate(-18.10,0) scale(1,1.0000)" font-size="21.7">/</text>
<text transform="translate(-12.07,0) scale(1,1.0400)" font-size="21.7">6</text>
</g>
<line x1="852.5" y1="334.62" x2="857.5" y2="334.62" stroke="#000" stroke-width="2"/>
<line x1="847.5" y1="309.58" x2="857.5" y2="309.58" stroke="#000" stroke-width="2"/>
<g transform="translate(841.20,316.00)">
<text transform="translate(-30.17,0) scale(1,1.0400)" font-size="21.7">0</text>
<text transform="translate(-18.10,0) scale(1,1.0000)" font-size="21.7">/</text>
<text transform="translate(-12.07,0) scale(1,1.0400)" font-size="21.7">8</text>
</g>
<line x1="852.5" y1="284.54" x2="857.5" y2="284.54" stroke="#000" stroke-width="2"/>
<line x1="847.5" y1="259.50" x2="857.5" y2="259.50" stroke="#000" stroke-width="2"/>
<g transform="translate(841.20,266.00)">
<path transform="translate(-30.17,0) scale(0.010596,-0.010591)" d="M763,0 L583,0 L583,1147 Q518,1085 412.5,1023 Q307,961 223,930 L223,1104 Q374,1175 484.5,1273.5 Q595,1372 646,1466 L763,1466 Z"/>
<text transform="translate(-18.10,0) scale(1,1.0000)" font-size="21.7">/</text>
<text transform="translate(-12.07,0) scale(1,1.0400)" font-size="21.7">0</text>
</g>
<line x1="852.5" y1="234.46" x2="857.5" y2="234.46" stroke="#000" stroke-width="2"/>
<line x1="847.5" y1="209.42" x2="857.5" y2="209.42" stroke="#000" stroke-width="2"/>
<g transform="translate(841.20,216.00)">
<path transform="translate(-30.17,0) scale(0.010596,-0.010591)" d="M763,0 L583,0 L583,1147 Q518,1085 412.5,1023 Q307,961 223,930 L223,1104 Q374,1175 484.5,1273.5 Q595,1372 646,1466 L763,1466 Z"/>
<text transform="translate(-18.10,0) scale(1,1.0000)" font-size="21.7">/</text>
<text transform="translate(-12.07,0) scale(1,1.0400)" font-size="21.7">2</text>
</g>
<line x1="852.5" y1="184.38" x2="857.5" y2="184.38" stroke="#000" stroke-width="2"/>
<line x1="847.5" y1="159.34" x2="857.5" y2="159.34" stroke="#000" stroke-width="2"/>
<g transform="translate(841.20,166.00)">
<path transform="translate(-30.17,0) scale(0.010596,-0.010591)" d="M763,0 L583,0 L583,1147 Q518,1085 412.5,1023 Q307,961 223,930 L223,1104 Q374,1175 484.5,1273.5 Q595,1372 646,1466 L763,1466 Z"/>
<text transform="translate(-18.10,0) scale(1,1.0000)" font-size="21.7">/</text>
<text transform="translate(-12.07,0) scale(1,1.0400)" font-size="21.7">4</text>
</g>
<line x1="852.5" y1="134.30" x2="857.5" y2="134.30" stroke="#000" stroke-width="2"/>
<line x1="847.5" y1="109.26" x2="857.5" y2="109.26" stroke="#000" stroke-width="2"/>
<g transform="translate(841.20,116.00)">
<path transform="translate(-30.17,0) scale(0.010596,-0.010591)" d="M763,0 L583,0 L583,1147 Q518,1085 412.5,1023 Q307,961 223,930 L223,1104 Q374,1175 484.5,1273.5 Q595,1372 646,1466 L763,1466 Z"/>
<text transform="translate(-18.10,0) scale(1,1.0000)" font-size="21.7">/</text>
<text transform="translate(-12.07,0) scale(1,1.0400)" font-size="21.7">6</text>
</g>
<line x1="852.5" y1="84.22" x2="857.5" y2="84.22" stroke="#000" stroke-width="2"/>
<line x1="847.5" y1="59.18" x2="857.5" y2="59.18" stroke="#000" stroke-width="2"/>
<g transform="translate(841.20,66.00)">
<path transform="translate(-30.17,0) scale(0.010596,-0.010591)" d="M763,0 L583,0 L583,1147 Q518,1085 412.5,1023 Q307,961 223,930 L223,1104 Q374,1175 484.5,1273.5 Q595,1372 646,1466 L763,1466 Z"/>
<text transform="translate(-18.10,0) scale(1,1.0000)" font-size="21.7">/</text>
<text transform="translate(-12.07,0) scale(1,1.0400)" font-size="21.7">8</text>
</g>
<line x1="852.5" y1="34.14" x2="857.5" y2="34.14" stroke="#000" stroke-width="2"/>
<line x1="847.5" y1="9.10" x2="857.5" y2="9.10" stroke="#000" stroke-width="2"/>
<g transform="translate(841.20,16.00)">
<text transform="translate(-30.17,0) scale(1,1.0400)" font-size="21.7">2</text>
<text transform="translate(-18.10,0) scale(1,1.0000)" font-size="21.7">/</text>
<text transform="translate(-12.07,0) scale(1,1.0400)" font-size="21.7">0</text>
</g>
<line x1="924.11" y1="509.9" x2="924.11" y2="514.9" stroke="#000" stroke-width="2"/>
<line x1="1035.13" y1="509.9" x2="1035.13" y2="519.9" stroke="#000" stroke-width="2"/>
<g transform="translate(1035.13,543.00)">
<text transform="translate(-18.10,0) scale(1,1.0400)" font-size="21.7">500</text>
</g>
<line x1="1146.15" y1="509.9" x2="1146.15" y2="514.9" stroke="#000" stroke-width="2"/>
<line x1="1257.16" y1="509.9" x2="1257.16" y2="519.9" stroke="#000" stroke-width="2"/>
<g transform="translate(1257.16,543.00)">
<text transform="translate(-18.10,0) scale(1,1.0400)" font-size="21.7">600</text>
</g>
<line x1="1368.18" y1="509.9" x2="1368.18" y2="514.9" stroke="#000" stroke-width="2"/>
<line x1="1479.20" y1="509.9" x2="1479.20" y2="519.9" stroke="#000" stroke-width="2"/>
<g transform="translate(1479.20,543.00)">
<text transform="translate(-18.10,0) scale(1,1.0400)" font-size="21.7">700</text>
</g>
<g transform="translate(876.00,58.00)">
<text transform="translate(0.00,0) scale(1,1.0000)" font-size="29">(b)</text>
</g>
<g transform="translate(1168.55,584.00)">
<text transform="translate(-72.26,0) scale(1,1.0400)" font-size="26">W</text>
<text transform="translate(-47.72,0) scale(1,1.0000)" font-size="26">ave length</text>
</g>
<g transform="translate(796.90,259.70) rotate(-90)">
<text transform="translate(-69.38,0) scale(1,1.0400)" font-size="26">A</text>
<text transform="translate(-52.04,0) scale(1,1.0000)" font-size="26">bsorbance</text>
</g>
<rect x="1308.5" y="12.7" width="166.9000000000001" height="132.20000000000002" fill="#fff" stroke="#000" stroke-width="1.75"/>
<path d="M1312.0,30.6 H1333.1 M1349.5,30.6 H1369.8" stroke="#505050" stroke-width="1.9" stroke-linecap="round" fill="none"/>
<rect x="1335.6" y="25.1" width="11.4" height="11.2" fill="#505050"/>
<g transform="translate(1377.30,39.20)">
<text transform="translate(0.00,0) scale(1,1.0400)" font-size="26">5</text>
<text transform="translate(14.46,0) scale(1,1.0000)" font-size="26">ppm</text>
</g>
<path d="M1312.0,62.6 H1333.1 M1349.5,62.6 H1369.8" stroke="#ef4040" stroke-width="1.9" stroke-linecap="round" fill="none"/>
<circle cx="1340.8999999999999" cy="62.4" r="6.6" fill="#ef4040"/>
<g transform="translate(1377.30,71.20)">
<text transform="translate(0.00,0) scale(1,1.0400)" font-size="26">25</text>
<text transform="translate(28.92,0) scale(1,1.0000)" font-size="26">ppm</text>
</g>
<path d="M1312.0,94.6 H1333.1 M1349.5,94.6 H1369.8" stroke="#1b6fe0" stroke-width="1.9" stroke-linecap="round" fill="none"/>
<path d="M1333.6,99.19999999999999 L1349.0,99.19999999999999 L1341.3,86.19999999999999 Z" fill="#009200" stroke="#009200" stroke-width="0.6" stroke-linejoin="round"/>
<g transform="translate(1377.30,103.30)">
<text transform="translate(0.00,0) scale(1,1.0400)" font-size="26">50</text>
<text transform="translate(28.92,0) scale(1,1.0000)" font-size="26">ppm</text>
</g>
<path d="M1312.0,126.6 H1333.1 M1349.5,126.6 H1369.8" stroke="#38ad6a" stroke-width="1.9" stroke-linecap="round" fill="none"/>
<path d="M1333.6,121.8 L1349.0,121.8 L1341.3,135.6 Z" fill="#5f70ff" stroke="#5f70ff" stroke-width="0.6" stroke-linejoin="round"/>
<g transform="translate(1377.30,135.20)">
<path transform="translate(0.00,0) scale(0.012695,-0.012690)" d="M763,0 L583,0 L583,1147 Q518,1085 412.5,1023 Q307,961 223,930 L223,1104 Q374,1175 484.5,1273.5 Q595,1372 646,1466 L763,1466 Z"/>
<text transform="translate(14.46,0) scale(1,1.0400)" font-size="26">00</text>
<text transform="translate(43.38,0) scale(1,1.0000)" font-size="26">ppm</text>
</g>
</svg></div></body></html>
